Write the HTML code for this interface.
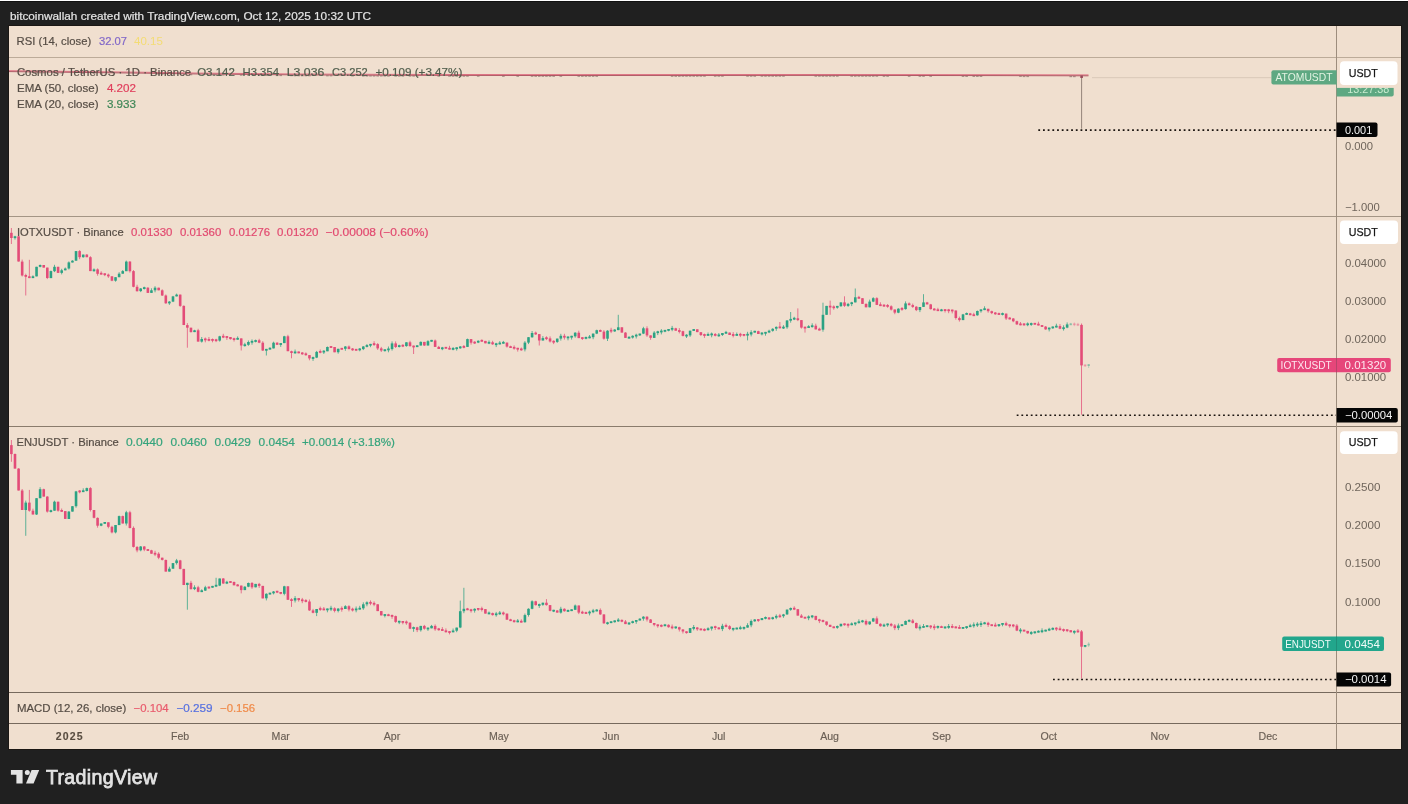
<!DOCTYPE html>
<html><head><meta charset="utf-8">
<style>
html,body{margin:0;padding:0;width:1408px;height:804px;overflow:hidden;background:#202020;}
svg{display:block;will-change:transform;}
text{font-family:"Liberation Sans",sans-serif;}
</style></head>
<body>
<svg width="1408" height="804" viewBox="0 0 1408 804">
<rect x="0" y="0" width="1408" height="804" fill="#202020"/>
<rect x="0" y="0" width="1408" height="1" fill="#ffffff"/>
<rect x="0" y="1" width="1408" height="1" fill="#111111"/>
<text x="10" y="19.9" font-size="11.6" fill="#e4e4e4" stroke="#e4e4e4" stroke-width="0.2" textLength="361" lengthAdjust="spacingAndGlyphs">bitcoinwallah created with TradingView.com, Oct 12, 2025 10:32 UTC</text>
<!-- chart -->
<rect x="8" y="25" width="1394" height="725" fill="#1b1714"/>
<rect x="9" y="26" width="1392" height="723" fill="#f0dfcf"/>
<g stroke-width="1">
<path d="M9 57.5H1401" stroke="#bcab99"/>
<path d="M9 216.5H1401" stroke="#a49585"/>
<path d="M9 426.5H1401" stroke="#8a7b6c"/>
<path d="M9 692.5H1401M9 723.5H1401" stroke="#76695d"/>
<path d="M1336.5 26V749" stroke="#9d8d7d"/>
</g>
<!-- ATOM pane -->
<rect x="31.65" y="72.1" width="2.6" height="1.2" fill="#6f5d55" opacity="0.55"/>
<rect x="35.24" y="72.1" width="2.6" height="1.2" fill="#6f5d55" opacity="0.55"/>
<rect x="38.83" y="72.2" width="2.6" height="1.2" fill="#6f5d55" opacity="0.55"/>
<rect x="42.42" y="72.2" width="2.6" height="1.2" fill="#6f5d55" opacity="0.55"/>
<rect x="53.19" y="72.3" width="2.6" height="1.2" fill="#6f5d55" opacity="0.55"/>
<rect x="56.78" y="72.4" width="2.6" height="1.2" fill="#6f5d55" opacity="0.55"/>
<rect x="60.37" y="72.4" width="2.6" height="1.2" fill="#6f5d55" opacity="0.55"/>
<rect x="81.92" y="72.7" width="2.6" height="1.2" fill="#6f5d55" opacity="0.55"/>
<rect x="92.69" y="72.8" width="2.6" height="1.2" fill="#6f5d55" opacity="0.55"/>
<rect x="99.88" y="72.9" width="2.6" height="1.2" fill="#6f5d55" opacity="0.55"/>
<rect x="157.33" y="73.6" width="2.6" height="1.2" fill="#6f5d55" opacity="0.55"/>
<rect x="160.92" y="73.6" width="2.6" height="1.2" fill="#6f5d55" opacity="0.55"/>
<rect x="189.65" y="74.1" width="2.6" height="1.2" fill="#6f5d55" opacity="0.55"/>
<rect x="211.20" y="74.3" width="2.6" height="1.2" fill="#6f5d55" opacity="0.55"/>
<rect x="214.79" y="74.3" width="2.6" height="1.2" fill="#6f5d55" opacity="0.55"/>
<rect x="218.38" y="74.4" width="2.6" height="1.2" fill="#6f5d55" opacity="0.55"/>
<rect x="221.97" y="74.4" width="2.6" height="1.2" fill="#6f5d55" opacity="0.55"/>
<rect x="239.92" y="74.6" width="2.6" height="1.2" fill="#6f5d55" opacity="0.55"/>
<rect x="247.11" y="74.6" width="2.6" height="1.2" fill="#6f5d55" opacity="0.55"/>
<rect x="257.88" y="74.7" width="2.6" height="1.2" fill="#6f5d55" opacity="0.55"/>
<rect x="261.47" y="74.8" width="2.6" height="1.2" fill="#6f5d55" opacity="0.55"/>
<rect x="265.06" y="74.8" width="2.6" height="1.2" fill="#6f5d55" opacity="0.55"/>
<rect x="275.83" y="74.9" width="2.6" height="1.2" fill="#6f5d55" opacity="0.55"/>
<rect x="279.42" y="74.9" width="2.6" height="1.2" fill="#6f5d55" opacity="0.55"/>
<rect x="290.20" y="75.0" width="2.6" height="1.2" fill="#6f5d55" opacity="0.55"/>
<rect x="293.79" y="75.1" width="2.6" height="1.2" fill="#6f5d55" opacity="0.55"/>
<rect x="297.38" y="75.1" width="2.6" height="1.2" fill="#6f5d55" opacity="0.55"/>
<rect x="300.97" y="75.1" width="2.6" height="1.2" fill="#6f5d55" opacity="0.55"/>
<rect x="304.56" y="75.1" width="2.6" height="1.2" fill="#6f5d55" opacity="0.55"/>
<rect x="308.15" y="75.1" width="2.6" height="1.2" fill="#6f5d55" opacity="0.55"/>
<rect x="326.11" y="75.2" width="2.6" height="1.2" fill="#6f5d55" opacity="0.55"/>
<rect x="329.70" y="75.2" width="2.6" height="1.2" fill="#6f5d55" opacity="0.55"/>
<rect x="351.25" y="75.3" width="2.6" height="1.2" fill="#6f5d55" opacity="0.55"/>
<rect x="362.02" y="75.4" width="2.6" height="1.2" fill="#6f5d55" opacity="0.55"/>
<rect x="365.61" y="75.4" width="2.6" height="1.2" fill="#6f5d55" opacity="0.55"/>
<rect x="369.20" y="75.4" width="2.6" height="1.2" fill="#6f5d55" opacity="0.55"/>
<rect x="372.79" y="75.4" width="2.6" height="1.2" fill="#6f5d55" opacity="0.55"/>
<rect x="376.38" y="75.4" width="2.6" height="1.2" fill="#6f5d55" opacity="0.55"/>
<rect x="379.97" y="75.4" width="2.6" height="1.2" fill="#6f5d55" opacity="0.55"/>
<rect x="383.56" y="75.4" width="2.6" height="1.2" fill="#6f5d55" opacity="0.55"/>
<rect x="387.15" y="75.5" width="2.6" height="1.2" fill="#6f5d55" opacity="0.55"/>
<rect x="394.34" y="75.5" width="2.6" height="1.2" fill="#6f5d55" opacity="0.55"/>
<rect x="397.93" y="75.5" width="2.6" height="1.2" fill="#6f5d55" opacity="0.55"/>
<rect x="401.52" y="75.5" width="2.6" height="1.2" fill="#6f5d55" opacity="0.55"/>
<rect x="408.70" y="75.5" width="2.6" height="1.2" fill="#6f5d55" opacity="0.55"/>
<rect x="412.29" y="75.5" width="2.6" height="1.2" fill="#6f5d55" opacity="0.55"/>
<rect x="415.88" y="75.5" width="2.6" height="1.2" fill="#6f5d55" opacity="0.55"/>
<rect x="437.43" y="75.6" width="2.6" height="1.2" fill="#6f5d55" opacity="0.55"/>
<rect x="448.20" y="75.6" width="2.6" height="1.2" fill="#6f5d55" opacity="0.55"/>
<rect x="451.79" y="75.6" width="2.6" height="1.2" fill="#6f5d55" opacity="0.55"/>
<rect x="455.38" y="75.6" width="2.6" height="1.2" fill="#6f5d55" opacity="0.55"/>
<rect x="458.97" y="75.6" width="2.6" height="1.2" fill="#6f5d55" opacity="0.55"/>
<rect x="462.57" y="75.6" width="2.6" height="1.2" fill="#6f5d55" opacity="0.55"/>
<rect x="466.16" y="75.6" width="2.6" height="1.2" fill="#6f5d55" opacity="0.55"/>
<rect x="476.93" y="75.6" width="2.6" height="1.2" fill="#6f5d55" opacity="0.55"/>
<rect x="502.07" y="75.7" width="2.6" height="1.2" fill="#6f5d55" opacity="0.55"/>
<rect x="516.43" y="75.7" width="2.6" height="1.2" fill="#6f5d55" opacity="0.55"/>
<rect x="530.80" y="75.7" width="2.6" height="1.2" fill="#6f5d55" opacity="0.55"/>
<rect x="534.39" y="75.7" width="2.6" height="1.2" fill="#6f5d55" opacity="0.55"/>
<rect x="537.98" y="75.7" width="2.6" height="1.2" fill="#6f5d55" opacity="0.55"/>
<rect x="541.57" y="75.7" width="2.6" height="1.2" fill="#6f5d55" opacity="0.55"/>
<rect x="545.16" y="75.7" width="2.6" height="1.2" fill="#6f5d55" opacity="0.55"/>
<rect x="548.75" y="75.7" width="2.6" height="1.2" fill="#6f5d55" opacity="0.55"/>
<rect x="552.34" y="75.7" width="2.6" height="1.2" fill="#6f5d55" opacity="0.55"/>
<rect x="559.52" y="75.7" width="2.6" height="1.2" fill="#6f5d55" opacity="0.55"/>
<rect x="577.48" y="75.7" width="2.6" height="1.2" fill="#6f5d55" opacity="0.55"/>
<rect x="581.07" y="75.7" width="2.6" height="1.2" fill="#6f5d55" opacity="0.55"/>
<rect x="584.66" y="75.7" width="2.6" height="1.2" fill="#6f5d55" opacity="0.55"/>
<rect x="588.25" y="75.7" width="2.6" height="1.2" fill="#6f5d55" opacity="0.55"/>
<rect x="591.84" y="75.7" width="2.6" height="1.2" fill="#6f5d55" opacity="0.55"/>
<rect x="595.43" y="75.7" width="2.6" height="1.2" fill="#6f5d55" opacity="0.55"/>
<rect x="670.84" y="75.7" width="2.6" height="1.2" fill="#6f5d55" opacity="0.55"/>
<rect x="674.44" y="75.7" width="2.6" height="1.2" fill="#6f5d55" opacity="0.55"/>
<rect x="678.03" y="75.7" width="2.6" height="1.2" fill="#6f5d55" opacity="0.55"/>
<rect x="681.62" y="75.6" width="2.6" height="1.2" fill="#6f5d55" opacity="0.55"/>
<rect x="685.21" y="75.6" width="2.6" height="1.2" fill="#6f5d55" opacity="0.55"/>
<rect x="688.80" y="75.6" width="2.6" height="1.2" fill="#6f5d55" opacity="0.55"/>
<rect x="692.39" y="75.6" width="2.6" height="1.2" fill="#6f5d55" opacity="0.55"/>
<rect x="695.98" y="75.6" width="2.6" height="1.2" fill="#6f5d55" opacity="0.55"/>
<rect x="699.57" y="75.6" width="2.6" height="1.2" fill="#6f5d55" opacity="0.55"/>
<rect x="703.16" y="75.6" width="2.6" height="1.2" fill="#6f5d55" opacity="0.55"/>
<rect x="713.94" y="75.6" width="2.6" height="1.2" fill="#6f5d55" opacity="0.55"/>
<rect x="717.53" y="75.6" width="2.6" height="1.2" fill="#6f5d55" opacity="0.55"/>
<rect x="721.12" y="75.6" width="2.6" height="1.2" fill="#6f5d55" opacity="0.55"/>
<rect x="746.26" y="75.6" width="2.6" height="1.2" fill="#6f5d55" opacity="0.55"/>
<rect x="749.85" y="75.6" width="2.6" height="1.2" fill="#6f5d55" opacity="0.55"/>
<rect x="753.44" y="75.6" width="2.6" height="1.2" fill="#6f5d55" opacity="0.55"/>
<rect x="760.62" y="75.6" width="2.6" height="1.2" fill="#6f5d55" opacity="0.55"/>
<rect x="764.21" y="75.6" width="2.6" height="1.2" fill="#6f5d55" opacity="0.55"/>
<rect x="767.80" y="75.6" width="2.6" height="1.2" fill="#6f5d55" opacity="0.55"/>
<rect x="771.39" y="75.6" width="2.6" height="1.2" fill="#6f5d55" opacity="0.55"/>
<rect x="774.98" y="75.6" width="2.6" height="1.2" fill="#6f5d55" opacity="0.55"/>
<rect x="778.57" y="75.6" width="2.6" height="1.2" fill="#6f5d55" opacity="0.55"/>
<rect x="782.17" y="75.6" width="2.6" height="1.2" fill="#6f5d55" opacity="0.55"/>
<rect x="814.48" y="75.6" width="2.6" height="1.2" fill="#6f5d55" opacity="0.55"/>
<rect x="818.08" y="75.6" width="2.6" height="1.2" fill="#6f5d55" opacity="0.55"/>
<rect x="821.67" y="75.6" width="2.6" height="1.2" fill="#6f5d55" opacity="0.55"/>
<rect x="825.26" y="75.6" width="2.6" height="1.2" fill="#6f5d55" opacity="0.55"/>
<rect x="828.85" y="75.6" width="2.6" height="1.2" fill="#6f5d55" opacity="0.55"/>
<rect x="832.44" y="75.6" width="2.6" height="1.2" fill="#6f5d55" opacity="0.55"/>
<rect x="836.03" y="75.6" width="2.6" height="1.2" fill="#6f5d55" opacity="0.55"/>
<rect x="850.39" y="75.6" width="2.6" height="1.2" fill="#6f5d55" opacity="0.55"/>
<rect x="853.99" y="75.6" width="2.6" height="1.2" fill="#6f5d55" opacity="0.55"/>
<rect x="857.58" y="75.6" width="2.6" height="1.2" fill="#6f5d55" opacity="0.55"/>
<rect x="861.17" y="75.6" width="2.6" height="1.2" fill="#6f5d55" opacity="0.55"/>
<rect x="864.76" y="75.6" width="2.6" height="1.2" fill="#6f5d55" opacity="0.55"/>
<rect x="868.35" y="75.6" width="2.6" height="1.2" fill="#6f5d55" opacity="0.55"/>
<rect x="871.94" y="75.6" width="2.6" height="1.2" fill="#6f5d55" opacity="0.55"/>
<rect x="875.53" y="75.6" width="2.6" height="1.2" fill="#6f5d55" opacity="0.55"/>
<rect x="882.71" y="75.7" width="2.6" height="1.2" fill="#6f5d55" opacity="0.55"/>
<rect x="886.30" y="75.7" width="2.6" height="1.2" fill="#6f5d55" opacity="0.55"/>
<rect x="907.85" y="75.7" width="2.6" height="1.2" fill="#6f5d55" opacity="0.55"/>
<rect x="918.62" y="75.7" width="2.6" height="1.2" fill="#6f5d55" opacity="0.55"/>
<rect x="922.21" y="75.7" width="2.6" height="1.2" fill="#6f5d55" opacity="0.55"/>
<rect x="929.40" y="75.7" width="2.6" height="1.2" fill="#6f5d55" opacity="0.55"/>
<rect x="961.72" y="75.8" width="2.6" height="1.2" fill="#6f5d55" opacity="0.55"/>
<rect x="965.31" y="75.8" width="2.6" height="1.2" fill="#6f5d55" opacity="0.55"/>
<rect x="972.49" y="75.8" width="2.6" height="1.2" fill="#6f5d55" opacity="0.55"/>
<rect x="976.08" y="75.8" width="2.6" height="1.2" fill="#6f5d55" opacity="0.55"/>
<rect x="979.67" y="75.8" width="2.6" height="1.2" fill="#6f5d55" opacity="0.55"/>
<rect x="1019.17" y="75.8" width="2.6" height="1.2" fill="#6f5d55" opacity="0.55"/>
<rect x="1022.76" y="75.9" width="2.6" height="1.2" fill="#6f5d55" opacity="0.55"/>
<rect x="1026.35" y="75.9" width="2.6" height="1.2" fill="#6f5d55" opacity="0.55"/>
<rect x="1069.45" y="76.0" width="2.6" height="1.2" fill="#6f5d55" opacity="0.55"/>
<rect x="1073.04" y="76.0" width="2.6" height="1.2" fill="#6f5d55" opacity="0.55"/>
<path d="M9 70.7 L60 71.3 L140 72.2 L200 73.1 L300 74.0 L400 74.4 L520 74.6 L840 74.5 L1000 74.7 L1088.5 74.9" stroke="#e07485" stroke-width="1" fill="none"/>
<path d="M9 71.6 L60 72.2 L140 73.1 L200 74.0 L300 74.9 L400 75.3 L520 75.5 L840 75.4 L1000 75.6 L1088.5 75.8" stroke="#a84c5a" stroke-width="0.9" fill="none"/>
<path d="M1081.6 77V128.7" stroke="#8a7a70" stroke-width="0.9"/>
<rect x="1080.3" y="75.5" width="2.6" height="2.5" fill="#9a4a5a"/>
<path d="M1092 77.7H1271" stroke="#d9c8b8" stroke-width="1"/>
<path d="M1038.3 130.1H1336" stroke="#1a1410" stroke-width="1.6" stroke-dasharray="1.8 2.89"/>
<!-- IOTX candles -->
<g>
<path d="M11.40 228.0V244.0" stroke="#e34c78" stroke-width="0.75"/>
<rect x="10.10" y="232.8" width="2.6" height="5.2" fill="#e34c78"/>
<path d="M14.99 235.8V239.6" stroke="#2ba283" stroke-width="0.75"/>
<rect x="13.69" y="236.3" width="2.6" height="1.8" fill="#2ba283"/>
<path d="M18.58 236.3V261.6" stroke="#e34c78" stroke-width="0.75"/>
<rect x="17.28" y="236.3" width="2.6" height="25.2" fill="#e34c78"/>
<path d="M22.17 259.6V276.5" stroke="#e34c78" stroke-width="0.75"/>
<rect x="20.87" y="261.6" width="2.6" height="13.9" fill="#e34c78"/>
<path d="M25.76 273.7V295.5" stroke="#e34c78" stroke-width="0.75"/>
<rect x="24.46" y="275.0" width="2.6" height="1.8" fill="#e34c78"/>
<path d="M29.36 259.8V278.1" stroke="#e34c78" stroke-width="0.75"/>
<rect x="28.06" y="276.3" width="2.6" height="1.8" fill="#e34c78"/>
<path d="M32.95 275.3V278.1" stroke="#2ba283" stroke-width="0.75"/>
<rect x="31.65" y="276.3" width="2.6" height="1.8" fill="#2ba283"/>
<path d="M36.54 266.8V276.3" stroke="#2ba283" stroke-width="0.75"/>
<rect x="35.24" y="266.8" width="2.6" height="9.6" fill="#2ba283"/>
<path d="M40.13 264.5V267.3" stroke="#2ba283" stroke-width="0.75"/>
<rect x="38.83" y="265.0" width="2.6" height="1.8" fill="#2ba283"/>
<path d="M43.72 265.0V267.6" stroke="#e34c78" stroke-width="0.75"/>
<rect x="42.42" y="265.0" width="2.6" height="2.6" fill="#e34c78"/>
<path d="M47.31 267.6V279.1" stroke="#e34c78" stroke-width="0.75"/>
<rect x="46.01" y="267.6" width="2.6" height="10.4" fill="#e34c78"/>
<path d="M50.90 270.6V278.1" stroke="#2ba283" stroke-width="0.75"/>
<rect x="49.60" y="271.1" width="2.6" height="7.0" fill="#2ba283"/>
<path d="M54.49 264.8V272.1" stroke="#2ba283" stroke-width="0.75"/>
<rect x="53.19" y="266.8" width="2.6" height="4.4" fill="#2ba283"/>
<path d="M58.08 266.8V272.9" stroke="#e34c78" stroke-width="0.75"/>
<rect x="56.78" y="266.8" width="2.6" height="6.1" fill="#e34c78"/>
<path d="M61.67 268.8V274.4" stroke="#2ba283" stroke-width="0.75"/>
<rect x="60.37" y="270.3" width="2.6" height="2.6" fill="#2ba283"/>
<path d="M65.27 267.5V270.3" stroke="#2ba283" stroke-width="0.75"/>
<rect x="63.97" y="268.5" width="2.6" height="1.8" fill="#2ba283"/>
<path d="M68.86 261.4V269.5" stroke="#2ba283" stroke-width="0.75"/>
<rect x="67.56" y="262.4" width="2.6" height="6.1" fill="#2ba283"/>
<path d="M72.45 260.2V262.5" stroke="#2ba283" stroke-width="0.75"/>
<rect x="71.15" y="260.7" width="2.6" height="1.8" fill="#2ba283"/>
<path d="M76.04 251.1V260.7" stroke="#2ba283" stroke-width="0.75"/>
<rect x="74.74" y="251.1" width="2.6" height="9.6" fill="#2ba283"/>
<path d="M79.63 250.1V259.2" stroke="#e34c78" stroke-width="0.75"/>
<rect x="78.33" y="251.1" width="2.6" height="6.1" fill="#e34c78"/>
<path d="M83.22 254.6V257.7" stroke="#2ba283" stroke-width="0.75"/>
<rect x="81.92" y="254.6" width="2.6" height="2.6" fill="#2ba283"/>
<path d="M86.81 254.1V257.2" stroke="#e34c78" stroke-width="0.75"/>
<rect x="85.51" y="254.6" width="2.6" height="2.6" fill="#e34c78"/>
<path d="M90.40 256.2V271.1" stroke="#e34c78" stroke-width="0.75"/>
<rect x="89.10" y="257.2" width="2.6" height="13.9" fill="#e34c78"/>
<path d="M93.99 268.4V271.7" stroke="#2ba283" stroke-width="0.75"/>
<rect x="92.69" y="269.4" width="2.6" height="1.8" fill="#2ba283"/>
<path d="M97.58 268.4V275.7" stroke="#e34c78" stroke-width="0.75"/>
<rect x="96.28" y="269.4" width="2.6" height="4.4" fill="#e34c78"/>
<path d="M101.18 271.3V274.6" stroke="#e34c78" stroke-width="0.75"/>
<rect x="99.88" y="272.8" width="2.6" height="1.8" fill="#e34c78"/>
<path d="M104.77 273.3V276.1" stroke="#e34c78" stroke-width="0.75"/>
<rect x="103.47" y="273.3" width="2.6" height="1.8" fill="#e34c78"/>
<path d="M108.36 273.6V277.9" stroke="#e34c78" stroke-width="0.75"/>
<rect x="107.06" y="274.6" width="2.6" height="1.8" fill="#e34c78"/>
<path d="M111.95 276.3V281.2" stroke="#e34c78" stroke-width="0.75"/>
<rect x="110.65" y="276.3" width="2.6" height="4.4" fill="#e34c78"/>
<path d="M115.54 277.2V281.7" stroke="#2ba283" stroke-width="0.75"/>
<rect x="114.24" y="277.2" width="2.6" height="3.5" fill="#2ba283"/>
<path d="M119.13 272.2V277.2" stroke="#2ba283" stroke-width="0.75"/>
<rect x="117.83" y="273.7" width="2.6" height="3.5" fill="#2ba283"/>
<path d="M122.72 270.1V273.7" stroke="#2ba283" stroke-width="0.75"/>
<rect x="121.42" y="271.1" width="2.6" height="2.6" fill="#2ba283"/>
<path d="M126.31 260.6V271.1" stroke="#2ba283" stroke-width="0.75"/>
<rect x="125.01" y="261.6" width="2.6" height="9.6" fill="#2ba283"/>
<path d="M129.90 261.1V272.6" stroke="#e34c78" stroke-width="0.75"/>
<rect x="128.60" y="261.6" width="2.6" height="9.6" fill="#e34c78"/>
<path d="M133.49 270.1V287.3" stroke="#e34c78" stroke-width="0.75"/>
<rect x="132.19" y="271.1" width="2.6" height="15.7" fill="#e34c78"/>
<path d="M137.09 284.8V291.6" stroke="#e34c78" stroke-width="0.75"/>
<rect x="135.78" y="286.8" width="2.6" height="4.4" fill="#e34c78"/>
<path d="M140.68 288.0V292.1" stroke="#2ba283" stroke-width="0.75"/>
<rect x="139.38" y="288.5" width="2.6" height="2.6" fill="#2ba283"/>
<path d="M144.27 286.7V289.5" stroke="#2ba283" stroke-width="0.75"/>
<rect x="142.97" y="287.2" width="2.6" height="1.8" fill="#2ba283"/>
<path d="M147.86 287.2V292.9" stroke="#e34c78" stroke-width="0.75"/>
<rect x="146.56" y="287.7" width="2.6" height="5.2" fill="#e34c78"/>
<path d="M151.45 288.3V292.9" stroke="#2ba283" stroke-width="0.75"/>
<rect x="150.15" y="290.3" width="2.6" height="2.6" fill="#2ba283"/>
<path d="M155.04 286.2V292.3" stroke="#2ba283" stroke-width="0.75"/>
<rect x="153.74" y="287.7" width="2.6" height="2.6" fill="#2ba283"/>
<path d="M158.63 287.7V290.3" stroke="#e34c78" stroke-width="0.75"/>
<rect x="157.33" y="287.7" width="2.6" height="2.6" fill="#e34c78"/>
<path d="M162.22 289.3V296.0" stroke="#e34c78" stroke-width="0.75"/>
<rect x="160.92" y="290.3" width="2.6" height="5.2" fill="#e34c78"/>
<path d="M165.81 294.5V303.8" stroke="#e34c78" stroke-width="0.75"/>
<rect x="164.51" y="295.5" width="2.6" height="7.8" fill="#e34c78"/>
<path d="M169.40 301.1V304.9" stroke="#2ba283" stroke-width="0.75"/>
<rect x="168.10" y="301.6" width="2.6" height="1.8" fill="#2ba283"/>
<path d="M173.00 295.9V302.1" stroke="#2ba283" stroke-width="0.75"/>
<rect x="171.69" y="296.4" width="2.6" height="5.2" fill="#2ba283"/>
<path d="M176.59 293.6V296.4" stroke="#2ba283" stroke-width="0.75"/>
<rect x="175.29" y="294.6" width="2.6" height="1.8" fill="#2ba283"/>
<path d="M180.18 294.6V306.9" stroke="#e34c78" stroke-width="0.75"/>
<rect x="178.88" y="294.6" width="2.6" height="11.3" fill="#e34c78"/>
<path d="M183.77 305.4V325.1" stroke="#e34c78" stroke-width="0.75"/>
<rect x="182.47" y="305.9" width="2.6" height="19.1" fill="#e34c78"/>
<path d="M187.36 323.1V347.7" stroke="#e34c78" stroke-width="0.75"/>
<rect x="186.06" y="325.1" width="2.6" height="2.6" fill="#e34c78"/>
<path d="M190.95 327.7V332.5" stroke="#e34c78" stroke-width="0.75"/>
<rect x="189.65" y="327.7" width="2.6" height="4.4" fill="#e34c78"/>
<path d="M194.54 329.8V332.1" stroke="#2ba283" stroke-width="0.75"/>
<rect x="193.24" y="330.3" width="2.6" height="1.8" fill="#2ba283"/>
<path d="M198.13 328.8V341.6" stroke="#e34c78" stroke-width="0.75"/>
<rect x="196.83" y="330.3" width="2.6" height="11.3" fill="#e34c78"/>
<path d="M201.72 337.0V342.6" stroke="#2ba283" stroke-width="0.75"/>
<rect x="200.42" y="339.0" width="2.6" height="2.6" fill="#2ba283"/>
<path d="M205.31 337.5V342.3" stroke="#e34c78" stroke-width="0.75"/>
<rect x="204.01" y="338.5" width="2.6" height="1.8" fill="#e34c78"/>
<path d="M208.91 337.0V341.3" stroke="#e34c78" stroke-width="0.75"/>
<rect x="207.61" y="339.0" width="2.6" height="1.8" fill="#e34c78"/>
<path d="M212.50 338.5V342.3" stroke="#e34c78" stroke-width="0.75"/>
<rect x="211.20" y="339.0" width="2.6" height="1.8" fill="#e34c78"/>
<path d="M216.09 338.8V342.1" stroke="#e34c78" stroke-width="0.75"/>
<rect x="214.79" y="339.3" width="2.6" height="1.8" fill="#e34c78"/>
<path d="M219.68 335.8V341.6" stroke="#2ba283" stroke-width="0.75"/>
<rect x="218.38" y="336.3" width="2.6" height="4.3" fill="#2ba283"/>
<path d="M223.27 333.8V338.1" stroke="#e34c78" stroke-width="0.75"/>
<rect x="221.97" y="335.8" width="2.6" height="1.8" fill="#e34c78"/>
<path d="M226.86 336.1V339.9" stroke="#e34c78" stroke-width="0.75"/>
<rect x="225.56" y="336.1" width="2.6" height="1.8" fill="#e34c78"/>
<path d="M230.45 337.0V339.6" stroke="#e34c78" stroke-width="0.75"/>
<rect x="229.15" y="337.0" width="2.6" height="2.1" fill="#e34c78"/>
<path d="M234.04 337.7V341.5" stroke="#e34c78" stroke-width="0.75"/>
<rect x="232.74" y="338.2" width="2.6" height="1.8" fill="#e34c78"/>
<path d="M237.63 336.4V339.7" stroke="#2ba283" stroke-width="0.75"/>
<rect x="236.33" y="337.9" width="2.6" height="1.8" fill="#2ba283"/>
<path d="M241.22 338.4V350.5" stroke="#e34c78" stroke-width="0.75"/>
<rect x="239.92" y="338.4" width="2.6" height="7.1" fill="#e34c78"/>
<path d="M244.82 342.8V346.6" stroke="#2ba283" stroke-width="0.75"/>
<rect x="243.52" y="344.3" width="2.6" height="1.8" fill="#2ba283"/>
<path d="M248.41 340.5V345.8" stroke="#2ba283" stroke-width="0.75"/>
<rect x="247.11" y="342.0" width="2.6" height="2.8" fill="#2ba283"/>
<path d="M252.00 339.4V344.7" stroke="#2ba283" stroke-width="0.75"/>
<rect x="250.70" y="340.9" width="2.6" height="1.8" fill="#2ba283"/>
<path d="M255.59 339.6V342.4" stroke="#2ba283" stroke-width="0.75"/>
<rect x="254.29" y="340.1" width="2.6" height="1.8" fill="#2ba283"/>
<path d="M259.18 338.8V343.2" stroke="#e34c78" stroke-width="0.75"/>
<rect x="257.88" y="340.3" width="2.6" height="2.4" fill="#e34c78"/>
<path d="M262.77 341.2V351.0" stroke="#e34c78" stroke-width="0.75"/>
<rect x="261.47" y="342.7" width="2.6" height="7.8" fill="#e34c78"/>
<path d="M266.36 348.9V355.5" stroke="#2ba283" stroke-width="0.75"/>
<rect x="265.06" y="348.9" width="2.6" height="1.8" fill="#2ba283"/>
<path d="M269.95 347.3V349.6" stroke="#2ba283" stroke-width="0.75"/>
<rect x="268.65" y="347.8" width="2.6" height="1.8" fill="#2ba283"/>
<path d="M273.54 341.7V348.4" stroke="#2ba283" stroke-width="0.75"/>
<rect x="272.24" y="342.7" width="2.6" height="5.7" fill="#2ba283"/>
<path d="M277.13 342.2V344.8" stroke="#e34c78" stroke-width="0.75"/>
<rect x="275.83" y="342.7" width="2.6" height="2.1" fill="#e34c78"/>
<path d="M280.72 343.1V346.9" stroke="#2ba283" stroke-width="0.75"/>
<rect x="279.42" y="343.1" width="2.6" height="1.8" fill="#2ba283"/>
<path d="M284.32 335.8V343.1" stroke="#2ba283" stroke-width="0.75"/>
<rect x="283.02" y="336.3" width="2.6" height="6.8" fill="#2ba283"/>
<path d="M287.91 334.8V351.2" stroke="#e34c78" stroke-width="0.75"/>
<rect x="286.61" y="336.3" width="2.6" height="14.9" fill="#e34c78"/>
<path d="M291.50 350.7V358.3" stroke="#e34c78" stroke-width="0.75"/>
<rect x="290.20" y="351.2" width="2.6" height="1.8" fill="#e34c78"/>
<path d="M295.09 349.5V353.8" stroke="#2ba283" stroke-width="0.75"/>
<rect x="293.79" y="351.5" width="2.6" height="1.8" fill="#2ba283"/>
<path d="M298.68 351.5V353.3" stroke="#e34c78" stroke-width="0.75"/>
<rect x="297.38" y="351.5" width="2.6" height="1.8" fill="#e34c78"/>
<path d="M302.27 352.0V354.8" stroke="#e34c78" stroke-width="0.75"/>
<rect x="300.97" y="352.5" width="2.6" height="1.8" fill="#e34c78"/>
<path d="M305.86 352.4V355.7" stroke="#e34c78" stroke-width="0.75"/>
<rect x="304.56" y="353.4" width="2.6" height="1.8" fill="#e34c78"/>
<path d="M309.45 355.1V360.3" stroke="#e34c78" stroke-width="0.75"/>
<rect x="308.15" y="355.1" width="2.6" height="3.3" fill="#e34c78"/>
<path d="M313.04 356.6V360.9" stroke="#2ba283" stroke-width="0.75"/>
<rect x="311.74" y="357.1" width="2.6" height="1.8" fill="#2ba283"/>
<path d="M316.63 350.9V358.1" stroke="#2ba283" stroke-width="0.75"/>
<rect x="315.33" y="351.9" width="2.6" height="5.7" fill="#2ba283"/>
<path d="M320.23 349.5V353.3" stroke="#e34c78" stroke-width="0.75"/>
<rect x="318.93" y="351.0" width="2.6" height="1.8" fill="#e34c78"/>
<path d="M323.82 350.2V354.0" stroke="#2ba283" stroke-width="0.75"/>
<rect x="322.52" y="350.7" width="2.6" height="1.8" fill="#2ba283"/>
<path d="M327.41 346.5V351.2" stroke="#2ba283" stroke-width="0.75"/>
<rect x="326.11" y="347.0" width="2.6" height="4.3" fill="#2ba283"/>
<path d="M331.00 346.1V347.9" stroke="#e34c78" stroke-width="0.75"/>
<rect x="329.70" y="346.1" width="2.6" height="1.8" fill="#e34c78"/>
<path d="M334.59 347.0V352.2" stroke="#e34c78" stroke-width="0.75"/>
<rect x="333.29" y="347.0" width="2.6" height="5.3" fill="#e34c78"/>
<path d="M338.18 348.8V353.7" stroke="#2ba283" stroke-width="0.75"/>
<rect x="336.88" y="348.8" width="2.6" height="3.4" fill="#2ba283"/>
<path d="M341.77 347.9V349.7" stroke="#e34c78" stroke-width="0.75"/>
<rect x="340.47" y="347.9" width="2.6" height="1.8" fill="#e34c78"/>
<path d="M345.36 346.0V350.8" stroke="#2ba283" stroke-width="0.75"/>
<rect x="344.06" y="346.5" width="2.6" height="2.3" fill="#2ba283"/>
<path d="M348.95 345.5V349.1" stroke="#e34c78" stroke-width="0.75"/>
<rect x="347.65" y="346.5" width="2.6" height="2.6" fill="#e34c78"/>
<path d="M352.55 348.0V350.8" stroke="#e34c78" stroke-width="0.75"/>
<rect x="351.25" y="348.5" width="2.6" height="1.8" fill="#e34c78"/>
<path d="M356.14 348.9V350.7" stroke="#e34c78" stroke-width="0.75"/>
<rect x="354.84" y="348.9" width="2.6" height="1.8" fill="#e34c78"/>
<path d="M359.73 348.0V351.3" stroke="#2ba283" stroke-width="0.75"/>
<rect x="358.43" y="348.5" width="2.6" height="1.8" fill="#2ba283"/>
<path d="M363.32 346.0V350.1" stroke="#2ba283" stroke-width="0.75"/>
<rect x="362.02" y="346.5" width="2.6" height="2.6" fill="#2ba283"/>
<path d="M366.91 344.1V347.4" stroke="#2ba283" stroke-width="0.75"/>
<rect x="365.61" y="345.1" width="2.6" height="1.8" fill="#2ba283"/>
<path d="M370.50 343.9V347.2" stroke="#2ba283" stroke-width="0.75"/>
<rect x="369.20" y="343.9" width="2.6" height="1.8" fill="#2ba283"/>
<path d="M374.09 341.2V346.0" stroke="#e34c78" stroke-width="0.75"/>
<rect x="372.79" y="343.2" width="2.6" height="1.8" fill="#e34c78"/>
<path d="M377.68 343.1V349.9" stroke="#e34c78" stroke-width="0.75"/>
<rect x="376.38" y="344.1" width="2.6" height="4.3" fill="#e34c78"/>
<path d="M381.27 346.9V352.0" stroke="#e34c78" stroke-width="0.75"/>
<rect x="379.97" y="348.4" width="2.6" height="2.1" fill="#e34c78"/>
<path d="M384.86 349.3V351.6" stroke="#2ba283" stroke-width="0.75"/>
<rect x="383.56" y="349.3" width="2.6" height="1.8" fill="#2ba283"/>
<path d="M388.45 346.5V352.3" stroke="#2ba283" stroke-width="0.75"/>
<rect x="387.15" y="348.5" width="2.6" height="1.8" fill="#2ba283"/>
<path d="M392.05 341.4V350.6" stroke="#2ba283" stroke-width="0.75"/>
<rect x="390.75" y="343.4" width="2.6" height="5.7" fill="#2ba283"/>
<path d="M395.64 341.4V348.0" stroke="#e34c78" stroke-width="0.75"/>
<rect x="394.34" y="343.4" width="2.6" height="3.6" fill="#e34c78"/>
<path d="M399.23 344.7V347.5" stroke="#2ba283" stroke-width="0.75"/>
<rect x="397.93" y="345.2" width="2.6" height="1.8" fill="#2ba283"/>
<path d="M402.82 344.3V347.1" stroke="#e34c78" stroke-width="0.75"/>
<rect x="401.52" y="344.8" width="2.6" height="1.8" fill="#e34c78"/>
<path d="M406.41 342.3V346.7" stroke="#2ba283" stroke-width="0.75"/>
<rect x="405.11" y="342.3" width="2.6" height="3.8" fill="#2ba283"/>
<path d="M410.00 340.8V346.7" stroke="#e34c78" stroke-width="0.75"/>
<rect x="408.70" y="342.3" width="2.6" height="3.8" fill="#e34c78"/>
<path d="M413.59 345.6V354.0" stroke="#e34c78" stroke-width="0.75"/>
<rect x="412.29" y="345.6" width="2.6" height="1.8" fill="#e34c78"/>
<path d="M417.18 345.3V347.1" stroke="#2ba283" stroke-width="0.75"/>
<rect x="415.88" y="345.3" width="2.6" height="1.8" fill="#2ba283"/>
<path d="M420.77 341.4V345.5" stroke="#2ba283" stroke-width="0.75"/>
<rect x="419.47" y="341.9" width="2.6" height="3.6" fill="#2ba283"/>
<path d="M424.37 341.9V346.0" stroke="#e34c78" stroke-width="0.75"/>
<rect x="423.06" y="341.9" width="2.6" height="3.6" fill="#e34c78"/>
<path d="M427.96 340.2V345.5" stroke="#2ba283" stroke-width="0.75"/>
<rect x="426.66" y="341.2" width="2.6" height="4.3" fill="#2ba283"/>
<path d="M431.55 339.9V341.7" stroke="#2ba283" stroke-width="0.75"/>
<rect x="430.25" y="339.9" width="2.6" height="1.8" fill="#2ba283"/>
<path d="M435.14 339.5V346.9" stroke="#e34c78" stroke-width="0.75"/>
<rect x="433.84" y="340.5" width="2.6" height="6.4" fill="#e34c78"/>
<path d="M438.73 345.9V349.0" stroke="#e34c78" stroke-width="0.75"/>
<rect x="437.43" y="346.9" width="2.6" height="2.1" fill="#e34c78"/>
<path d="M442.32 346.9V350.2" stroke="#2ba283" stroke-width="0.75"/>
<rect x="441.02" y="347.4" width="2.6" height="1.8" fill="#2ba283"/>
<path d="M445.91 346.9V348.7" stroke="#e34c78" stroke-width="0.75"/>
<rect x="444.61" y="346.9" width="2.6" height="1.8" fill="#e34c78"/>
<path d="M449.50 345.8V349.6" stroke="#e34c78" stroke-width="0.75"/>
<rect x="448.20" y="347.8" width="2.6" height="1.8" fill="#e34c78"/>
<path d="M453.09 347.0V350.3" stroke="#2ba283" stroke-width="0.75"/>
<rect x="451.79" y="348.0" width="2.6" height="1.8" fill="#2ba283"/>
<path d="M456.68 347.3V350.6" stroke="#2ba283" stroke-width="0.75"/>
<rect x="455.38" y="347.3" width="2.6" height="1.8" fill="#2ba283"/>
<path d="M460.27 346.0V348.8" stroke="#2ba283" stroke-width="0.75"/>
<rect x="458.97" y="346.5" width="2.6" height="1.8" fill="#2ba283"/>
<path d="M463.87 345.0V348.3" stroke="#e34c78" stroke-width="0.75"/>
<rect x="462.57" y="346.0" width="2.6" height="1.8" fill="#e34c78"/>
<path d="M467.46 338.6V346.9" stroke="#2ba283" stroke-width="0.75"/>
<rect x="466.16" y="339.1" width="2.6" height="7.8" fill="#2ba283"/>
<path d="M471.05 339.1V344.6" stroke="#e34c78" stroke-width="0.75"/>
<rect x="469.75" y="339.1" width="2.6" height="3.6" fill="#e34c78"/>
<path d="M474.64 341.2V344.0" stroke="#e34c78" stroke-width="0.75"/>
<rect x="473.34" y="341.7" width="2.6" height="1.8" fill="#e34c78"/>
<path d="M478.23 340.3V343.1" stroke="#2ba283" stroke-width="0.75"/>
<rect x="476.93" y="340.8" width="2.6" height="1.8" fill="#2ba283"/>
<path d="M481.82 339.4V341.7" stroke="#e34c78" stroke-width="0.75"/>
<rect x="480.52" y="339.9" width="2.6" height="1.8" fill="#e34c78"/>
<path d="M485.41 340.9V343.3" stroke="#e34c78" stroke-width="0.75"/>
<rect x="484.11" y="340.9" width="2.6" height="2.4" fill="#e34c78"/>
<path d="M489.00 340.4V344.2" stroke="#2ba283" stroke-width="0.75"/>
<rect x="487.70" y="341.9" width="2.6" height="1.8" fill="#2ba283"/>
<path d="M492.59 340.8V344.8" stroke="#e34c78" stroke-width="0.75"/>
<rect x="491.29" y="342.3" width="2.6" height="2.0" fill="#e34c78"/>
<path d="M496.19 342.8V347.1" stroke="#2ba283" stroke-width="0.75"/>
<rect x="494.88" y="343.3" width="2.6" height="1.8" fill="#2ba283"/>
<path d="M499.78 341.1V344.4" stroke="#2ba283" stroke-width="0.75"/>
<rect x="498.48" y="342.6" width="2.6" height="1.8" fill="#2ba283"/>
<path d="M503.37 340.9V343.7" stroke="#2ba283" stroke-width="0.75"/>
<rect x="502.07" y="341.9" width="2.6" height="1.8" fill="#2ba283"/>
<path d="M506.96 342.6V347.6" stroke="#e34c78" stroke-width="0.75"/>
<rect x="505.66" y="342.6" width="2.6" height="4.0" fill="#e34c78"/>
<path d="M510.55 345.7V348.0" stroke="#e34c78" stroke-width="0.75"/>
<rect x="509.25" y="346.2" width="2.6" height="1.8" fill="#e34c78"/>
<path d="M514.14 345.4V349.7" stroke="#e34c78" stroke-width="0.75"/>
<rect x="512.84" y="346.9" width="2.6" height="1.8" fill="#e34c78"/>
<path d="M517.73 347.8V351.6" stroke="#e34c78" stroke-width="0.75"/>
<rect x="516.43" y="347.8" width="2.6" height="1.8" fill="#e34c78"/>
<path d="M521.32 347.5V350.8" stroke="#e34c78" stroke-width="0.75"/>
<rect x="520.02" y="348.5" width="2.6" height="1.8" fill="#e34c78"/>
<path d="M524.91 341.1V351.4" stroke="#2ba283" stroke-width="0.75"/>
<rect x="523.61" y="342.6" width="2.6" height="6.8" fill="#2ba283"/>
<path d="M528.50 337.2V344.1" stroke="#2ba283" stroke-width="0.75"/>
<rect x="527.20" y="337.2" width="2.6" height="5.4" fill="#2ba283"/>
<path d="M532.10 331.0V337.7" stroke="#2ba283" stroke-width="0.75"/>
<rect x="530.80" y="333.0" width="2.6" height="4.3" fill="#2ba283"/>
<path d="M535.69 331.6V334.9" stroke="#e34c78" stroke-width="0.75"/>
<rect x="534.39" y="332.6" width="2.6" height="1.8" fill="#e34c78"/>
<path d="M539.28 334.1V345.5" stroke="#e34c78" stroke-width="0.75"/>
<rect x="537.98" y="334.1" width="2.6" height="6.4" fill="#e34c78"/>
<path d="M542.87 336.1V340.5" stroke="#2ba283" stroke-width="0.75"/>
<rect x="541.57" y="338.1" width="2.6" height="2.4" fill="#2ba283"/>
<path d="M546.46 336.3V340.1" stroke="#e34c78" stroke-width="0.75"/>
<rect x="545.16" y="337.3" width="2.6" height="1.8" fill="#e34c78"/>
<path d="M550.05 336.4V342.5" stroke="#e34c78" stroke-width="0.75"/>
<rect x="548.75" y="338.4" width="2.6" height="3.1" fill="#e34c78"/>
<path d="M553.64 340.3V344.1" stroke="#e34c78" stroke-width="0.75"/>
<rect x="552.34" y="340.8" width="2.6" height="1.8" fill="#e34c78"/>
<path d="M557.23 338.6V342.9" stroke="#2ba283" stroke-width="0.75"/>
<rect x="555.93" y="338.6" width="2.6" height="3.3" fill="#2ba283"/>
<path d="M560.82 333.8V340.6" stroke="#2ba283" stroke-width="0.75"/>
<rect x="559.52" y="335.8" width="2.6" height="2.8" fill="#2ba283"/>
<path d="M564.41 333.8V339.6" stroke="#e34c78" stroke-width="0.75"/>
<rect x="563.11" y="335.8" width="2.6" height="1.8" fill="#e34c78"/>
<path d="M568.00 336.5V340.3" stroke="#2ba283" stroke-width="0.75"/>
<rect x="566.71" y="336.5" width="2.6" height="1.8" fill="#2ba283"/>
<path d="M571.60 335.8V339.6" stroke="#2ba283" stroke-width="0.75"/>
<rect x="570.30" y="335.8" width="2.6" height="1.8" fill="#2ba283"/>
<path d="M575.19 332.2V337.7" stroke="#2ba283" stroke-width="0.75"/>
<rect x="573.89" y="332.7" width="2.6" height="3.6" fill="#2ba283"/>
<path d="M578.78 330.7V338.1" stroke="#e34c78" stroke-width="0.75"/>
<rect x="577.48" y="332.7" width="2.6" height="5.4" fill="#e34c78"/>
<path d="M582.37 337.2V340.0" stroke="#e34c78" stroke-width="0.75"/>
<rect x="581.07" y="337.2" width="2.6" height="1.8" fill="#e34c78"/>
<path d="M585.96 336.5V339.3" stroke="#2ba283" stroke-width="0.75"/>
<rect x="584.66" y="337.0" width="2.6" height="1.8" fill="#2ba283"/>
<path d="M589.55 335.0V338.3" stroke="#2ba283" stroke-width="0.75"/>
<rect x="588.25" y="336.5" width="2.6" height="1.8" fill="#2ba283"/>
<path d="M593.14 333.6V339.2" stroke="#2ba283" stroke-width="0.75"/>
<rect x="591.84" y="333.6" width="2.6" height="3.6" fill="#2ba283"/>
<path d="M596.73 329.7V334.1" stroke="#2ba283" stroke-width="0.75"/>
<rect x="595.43" y="330.2" width="2.6" height="3.4" fill="#2ba283"/>
<path d="M600.32 329.5V331.8" stroke="#e34c78" stroke-width="0.75"/>
<rect x="599.02" y="330.0" width="2.6" height="1.8" fill="#e34c78"/>
<path d="M603.91 330.1V339.7" stroke="#e34c78" stroke-width="0.75"/>
<rect x="602.62" y="331.6" width="2.6" height="7.1" fill="#e34c78"/>
<path d="M607.51 330.2V341.0" stroke="#2ba283" stroke-width="0.75"/>
<rect x="606.21" y="330.7" width="2.6" height="8.0" fill="#2ba283"/>
<path d="M611.10 327.8V333.1" stroke="#e34c78" stroke-width="0.75"/>
<rect x="609.80" y="329.8" width="2.6" height="1.8" fill="#e34c78"/>
<path d="M614.69 329.1V331.9" stroke="#2ba283" stroke-width="0.75"/>
<rect x="613.39" y="329.6" width="2.6" height="1.8" fill="#2ba283"/>
<path d="M618.28 314.8V330.2" stroke="#2ba283" stroke-width="0.75"/>
<rect x="616.98" y="327.3" width="2.6" height="2.8" fill="#2ba283"/>
<path d="M621.87 327.3V332.6" stroke="#e34c78" stroke-width="0.75"/>
<rect x="620.57" y="327.3" width="2.6" height="5.3" fill="#e34c78"/>
<path d="M625.46 332.1V337.8" stroke="#e34c78" stroke-width="0.75"/>
<rect x="624.16" y="332.6" width="2.6" height="5.3" fill="#e34c78"/>
<path d="M629.05 336.3V338.6" stroke="#2ba283" stroke-width="0.75"/>
<rect x="627.75" y="336.8" width="2.6" height="1.8" fill="#2ba283"/>
<path d="M632.64 335.3V338.6" stroke="#2ba283" stroke-width="0.75"/>
<rect x="631.34" y="335.8" width="2.6" height="1.8" fill="#2ba283"/>
<path d="M636.23 333.7V338.5" stroke="#2ba283" stroke-width="0.75"/>
<rect x="634.93" y="334.7" width="2.6" height="1.8" fill="#2ba283"/>
<path d="M639.83 333.6V335.9" stroke="#2ba283" stroke-width="0.75"/>
<rect x="638.53" y="333.6" width="2.6" height="1.8" fill="#2ba283"/>
<path d="M643.42 326.8V334.1" stroke="#2ba283" stroke-width="0.75"/>
<rect x="642.12" y="328.3" width="2.6" height="5.3" fill="#2ba283"/>
<path d="M647.01 326.3V336.9" stroke="#e34c78" stroke-width="0.75"/>
<rect x="645.71" y="328.3" width="2.6" height="7.1" fill="#e34c78"/>
<path d="M650.60 335.4V339.8" stroke="#e34c78" stroke-width="0.75"/>
<rect x="649.30" y="335.4" width="2.6" height="2.4" fill="#e34c78"/>
<path d="M654.19 331.1V337.8" stroke="#2ba283" stroke-width="0.75"/>
<rect x="652.89" y="332.6" width="2.6" height="5.3" fill="#2ba283"/>
<path d="M657.78 330.8V335.1" stroke="#2ba283" stroke-width="0.75"/>
<rect x="656.48" y="331.3" width="2.6" height="1.8" fill="#2ba283"/>
<path d="M661.37 329.1V334.4" stroke="#2ba283" stroke-width="0.75"/>
<rect x="660.07" y="330.6" width="2.6" height="1.8" fill="#2ba283"/>
<path d="M664.96 329.9V332.2" stroke="#2ba283" stroke-width="0.75"/>
<rect x="663.66" y="329.9" width="2.6" height="1.8" fill="#2ba283"/>
<path d="M668.55 329.0V331.3" stroke="#2ba283" stroke-width="0.75"/>
<rect x="667.25" y="329.0" width="2.6" height="1.8" fill="#2ba283"/>
<path d="M672.14 325.9V331.2" stroke="#2ba283" stroke-width="0.75"/>
<rect x="670.84" y="327.9" width="2.6" height="1.8" fill="#2ba283"/>
<path d="M675.74 327.8V330.7" stroke="#e34c78" stroke-width="0.75"/>
<rect x="674.44" y="328.3" width="2.6" height="2.4" fill="#e34c78"/>
<path d="M679.33 328.1V333.4" stroke="#e34c78" stroke-width="0.75"/>
<rect x="678.03" y="330.1" width="2.6" height="1.8" fill="#e34c78"/>
<path d="M682.92 330.7V336.4" stroke="#e34c78" stroke-width="0.75"/>
<rect x="681.62" y="331.2" width="2.6" height="4.7" fill="#e34c78"/>
<path d="M686.51 334.2V338.0" stroke="#2ba283" stroke-width="0.75"/>
<rect x="685.21" y="334.7" width="2.6" height="1.8" fill="#2ba283"/>
<path d="M690.10 330.7V336.9" stroke="#2ba283" stroke-width="0.75"/>
<rect x="688.80" y="330.7" width="2.6" height="4.7" fill="#2ba283"/>
<path d="M693.69 329.1V330.9" stroke="#2ba283" stroke-width="0.75"/>
<rect x="692.39" y="329.1" width="2.6" height="1.8" fill="#2ba283"/>
<path d="M697.28 329.3V332.2" stroke="#e34c78" stroke-width="0.75"/>
<rect x="695.98" y="329.3" width="2.6" height="2.8" fill="#e34c78"/>
<path d="M700.87 332.2V336.0" stroke="#e34c78" stroke-width="0.75"/>
<rect x="699.57" y="332.2" width="2.6" height="2.8" fill="#e34c78"/>
<path d="M704.46 333.6V337.9" stroke="#e34c78" stroke-width="0.75"/>
<rect x="703.16" y="334.1" width="2.6" height="1.8" fill="#e34c78"/>
<path d="M708.05 332.5V335.8" stroke="#2ba283" stroke-width="0.75"/>
<rect x="706.75" y="334.0" width="2.6" height="1.8" fill="#2ba283"/>
<path d="M711.64 332.5V337.3" stroke="#2ba283" stroke-width="0.75"/>
<rect x="710.35" y="333.5" width="2.6" height="1.8" fill="#2ba283"/>
<path d="M715.24 333.0V336.4" stroke="#e34c78" stroke-width="0.75"/>
<rect x="713.94" y="334.0" width="2.6" height="1.8" fill="#e34c78"/>
<path d="M718.83 333.0V336.8" stroke="#2ba283" stroke-width="0.75"/>
<rect x="717.53" y="334.5" width="2.6" height="1.8" fill="#2ba283"/>
<path d="M722.42 333.0V336.0" stroke="#2ba283" stroke-width="0.75"/>
<rect x="721.12" y="333.0" width="2.6" height="2.0" fill="#2ba283"/>
<path d="M726.01 330.9V333.7" stroke="#2ba283" stroke-width="0.75"/>
<rect x="724.71" y="331.9" width="2.6" height="1.8" fill="#2ba283"/>
<path d="M729.60 332.6V335.0" stroke="#e34c78" stroke-width="0.75"/>
<rect x="728.30" y="332.6" width="2.6" height="2.4" fill="#e34c78"/>
<path d="M733.19 332.1V337.4" stroke="#e34c78" stroke-width="0.75"/>
<rect x="731.89" y="334.1" width="2.6" height="1.8" fill="#e34c78"/>
<path d="M736.78 332.5V335.8" stroke="#2ba283" stroke-width="0.75"/>
<rect x="735.48" y="334.0" width="2.6" height="1.8" fill="#2ba283"/>
<path d="M740.37 332.8V337.1" stroke="#e34c78" stroke-width="0.75"/>
<rect x="739.07" y="333.8" width="2.6" height="1.8" fill="#e34c78"/>
<path d="M743.96 334.0V336.3" stroke="#e34c78" stroke-width="0.75"/>
<rect x="742.66" y="334.0" width="2.6" height="1.8" fill="#e34c78"/>
<path d="M747.56 331.8V340.4" stroke="#2ba283" stroke-width="0.75"/>
<rect x="746.26" y="333.8" width="2.6" height="1.8" fill="#2ba283"/>
<path d="M751.15 330.2V336.4" stroke="#2ba283" stroke-width="0.75"/>
<rect x="749.85" y="332.2" width="2.6" height="2.3" fill="#2ba283"/>
<path d="M754.74 330.8V332.6" stroke="#2ba283" stroke-width="0.75"/>
<rect x="753.44" y="330.8" width="2.6" height="1.8" fill="#2ba283"/>
<path d="M758.33 330.7V334.0" stroke="#e34c78" stroke-width="0.75"/>
<rect x="757.03" y="331.2" width="2.6" height="2.8" fill="#e34c78"/>
<path d="M761.92 332.1V335.4" stroke="#2ba283" stroke-width="0.75"/>
<rect x="760.62" y="332.6" width="2.6" height="1.8" fill="#2ba283"/>
<path d="M765.51 331.9V335.7" stroke="#2ba283" stroke-width="0.75"/>
<rect x="764.21" y="331.9" width="2.6" height="1.8" fill="#2ba283"/>
<path d="M769.10 329.7V333.1" stroke="#2ba283" stroke-width="0.75"/>
<rect x="767.80" y="330.7" width="2.6" height="1.8" fill="#2ba283"/>
<path d="M772.69 328.2V331.7" stroke="#2ba283" stroke-width="0.75"/>
<rect x="771.39" y="328.8" width="2.6" height="2.0" fill="#2ba283"/>
<path d="M776.28 326.4V330.8" stroke="#2ba283" stroke-width="0.75"/>
<rect x="774.98" y="326.9" width="2.6" height="1.8" fill="#2ba283"/>
<path d="M779.87 322.0V328.3" stroke="#e34c78" stroke-width="0.75"/>
<rect x="778.57" y="326.5" width="2.6" height="1.8" fill="#e34c78"/>
<path d="M783.47 325.2V329.0" stroke="#2ba283" stroke-width="0.75"/>
<rect x="782.17" y="326.7" width="2.6" height="1.8" fill="#2ba283"/>
<path d="M787.06 320.0V328.8" stroke="#2ba283" stroke-width="0.75"/>
<rect x="785.76" y="320.5" width="2.6" height="6.8" fill="#2ba283"/>
<path d="M790.65 312.0V322.7" stroke="#2ba283" stroke-width="0.75"/>
<rect x="789.35" y="318.9" width="2.6" height="1.8" fill="#2ba283"/>
<path d="M794.24 316.8V320.1" stroke="#2ba283" stroke-width="0.75"/>
<rect x="792.94" y="317.8" width="2.6" height="1.8" fill="#2ba283"/>
<path d="M797.83 308.4V321.1" stroke="#e34c78" stroke-width="0.75"/>
<rect x="796.53" y="318.3" width="2.6" height="1.8" fill="#e34c78"/>
<path d="M801.42 320.1V328.6" stroke="#e34c78" stroke-width="0.75"/>
<rect x="800.12" y="320.1" width="2.6" height="7.5" fill="#e34c78"/>
<path d="M805.01 326.7V332.6" stroke="#e34c78" stroke-width="0.75"/>
<rect x="803.71" y="326.7" width="2.6" height="1.8" fill="#e34c78"/>
<path d="M808.60 325.2V328.0" stroke="#2ba283" stroke-width="0.75"/>
<rect x="807.30" y="326.2" width="2.6" height="1.8" fill="#2ba283"/>
<path d="M812.19 323.3V327.6" stroke="#2ba283" stroke-width="0.75"/>
<rect x="810.89" y="325.3" width="2.6" height="1.8" fill="#2ba283"/>
<path d="M815.78 323.7V329.4" stroke="#e34c78" stroke-width="0.75"/>
<rect x="814.48" y="325.7" width="2.6" height="3.7" fill="#e34c78"/>
<path d="M819.38 327.7V330.5" stroke="#e34c78" stroke-width="0.75"/>
<rect x="818.08" y="328.7" width="2.6" height="1.8" fill="#e34c78"/>
<path d="M822.97 302.7V331.7" stroke="#2ba283" stroke-width="0.75"/>
<rect x="821.67" y="314.8" width="2.6" height="14.9" fill="#2ba283"/>
<path d="M826.56 305.9V314.8" stroke="#2ba283" stroke-width="0.75"/>
<rect x="825.26" y="305.9" width="2.6" height="8.9" fill="#2ba283"/>
<path d="M830.15 300.6V314.8" stroke="#e34c78" stroke-width="0.75"/>
<rect x="828.85" y="305.7" width="2.6" height="1.8" fill="#e34c78"/>
<path d="M833.74 305.4V309.7" stroke="#e34c78" stroke-width="0.75"/>
<rect x="832.44" y="306.4" width="2.6" height="1.8" fill="#e34c78"/>
<path d="M837.33 305.9V308.7" stroke="#2ba283" stroke-width="0.75"/>
<rect x="836.03" y="305.9" width="2.6" height="1.8" fill="#2ba283"/>
<path d="M840.92 302.4V306.8" stroke="#2ba283" stroke-width="0.75"/>
<rect x="839.62" y="302.4" width="2.6" height="3.8" fill="#2ba283"/>
<path d="M844.51 296.3V306.9" stroke="#e34c78" stroke-width="0.75"/>
<rect x="843.21" y="302.4" width="2.6" height="3.4" fill="#e34c78"/>
<path d="M848.10 302.9V306.9" stroke="#2ba283" stroke-width="0.75"/>
<rect x="846.80" y="303.9" width="2.6" height="2.0" fill="#2ba283"/>
<path d="M851.69 301.8V306.1" stroke="#2ba283" stroke-width="0.75"/>
<rect x="850.39" y="302.3" width="2.6" height="1.8" fill="#2ba283"/>
<path d="M855.28 288.5V302.4" stroke="#2ba283" stroke-width="0.75"/>
<rect x="853.99" y="297.3" width="2.6" height="5.1" fill="#2ba283"/>
<path d="M858.88 295.9V298.7" stroke="#e34c78" stroke-width="0.75"/>
<rect x="857.58" y="296.9" width="2.6" height="1.8" fill="#e34c78"/>
<path d="M862.47 298.2V303.9" stroke="#e34c78" stroke-width="0.75"/>
<rect x="861.17" y="298.2" width="2.6" height="5.7" fill="#e34c78"/>
<path d="M866.06 303.4V307.3" stroke="#e34c78" stroke-width="0.75"/>
<rect x="864.76" y="303.9" width="2.6" height="3.4" fill="#e34c78"/>
<path d="M869.65 299.6V307.3" stroke="#2ba283" stroke-width="0.75"/>
<rect x="868.35" y="301.6" width="2.6" height="5.7" fill="#2ba283"/>
<path d="M873.24 297.2V302.1" stroke="#2ba283" stroke-width="0.75"/>
<rect x="871.94" y="298.2" width="2.6" height="3.4" fill="#2ba283"/>
<path d="M876.83 297.2V304.9" stroke="#e34c78" stroke-width="0.75"/>
<rect x="875.53" y="298.2" width="2.6" height="6.7" fill="#e34c78"/>
<path d="M880.42 302.3V306.1" stroke="#e34c78" stroke-width="0.75"/>
<rect x="879.12" y="304.3" width="2.6" height="1.8" fill="#e34c78"/>
<path d="M884.01 304.2V307.0" stroke="#e34c78" stroke-width="0.75"/>
<rect x="882.71" y="304.7" width="2.6" height="1.8" fill="#e34c78"/>
<path d="M887.60 304.0V307.8" stroke="#e34c78" stroke-width="0.75"/>
<rect x="886.30" y="305.0" width="2.6" height="1.8" fill="#e34c78"/>
<path d="M891.20 305.3V310.5" stroke="#e34c78" stroke-width="0.75"/>
<rect x="889.90" y="306.3" width="2.6" height="3.3" fill="#e34c78"/>
<path d="M894.79 309.5V314.2" stroke="#e34c78" stroke-width="0.75"/>
<rect x="893.49" y="309.5" width="2.6" height="3.1" fill="#e34c78"/>
<path d="M898.38 308.2V313.2" stroke="#2ba283" stroke-width="0.75"/>
<rect x="897.08" y="308.7" width="2.6" height="4.0" fill="#2ba283"/>
<path d="M901.97 307.0V310.8" stroke="#e34c78" stroke-width="0.75"/>
<rect x="900.67" y="308.0" width="2.6" height="1.8" fill="#e34c78"/>
<path d="M905.56 301.4V309.6" stroke="#2ba283" stroke-width="0.75"/>
<rect x="904.26" y="303.4" width="2.6" height="5.7" fill="#2ba283"/>
<path d="M909.15 302.4V305.3" stroke="#e34c78" stroke-width="0.75"/>
<rect x="907.85" y="303.4" width="2.6" height="1.8" fill="#e34c78"/>
<path d="M912.74 303.6V307.9" stroke="#e34c78" stroke-width="0.75"/>
<rect x="911.44" y="305.1" width="2.6" height="1.8" fill="#e34c78"/>
<path d="M916.33 306.2V311.1" stroke="#e34c78" stroke-width="0.75"/>
<rect x="915.03" y="306.7" width="2.6" height="3.4" fill="#e34c78"/>
<path d="M919.92 307.0V312.1" stroke="#2ba283" stroke-width="0.75"/>
<rect x="918.62" y="307.0" width="2.6" height="3.1" fill="#2ba283"/>
<path d="M923.51 294.2V307.0" stroke="#2ba283" stroke-width="0.75"/>
<rect x="922.21" y="302.4" width="2.6" height="4.5" fill="#2ba283"/>
<path d="M927.11 301.9V304.4" stroke="#e34c78" stroke-width="0.75"/>
<rect x="925.81" y="302.4" width="2.6" height="2.0" fill="#e34c78"/>
<path d="M930.70 303.9V309.6" stroke="#e34c78" stroke-width="0.75"/>
<rect x="929.40" y="304.4" width="2.6" height="4.7" fill="#e34c78"/>
<path d="M934.29 308.1V310.4" stroke="#e34c78" stroke-width="0.75"/>
<rect x="932.99" y="308.6" width="2.6" height="1.8" fill="#e34c78"/>
<path d="M937.88 307.8V311.1" stroke="#e34c78" stroke-width="0.75"/>
<rect x="936.58" y="309.3" width="2.6" height="1.8" fill="#e34c78"/>
<path d="M941.47 308.9V311.2" stroke="#2ba283" stroke-width="0.75"/>
<rect x="940.17" y="309.4" width="2.6" height="1.8" fill="#2ba283"/>
<path d="M945.06 309.2V312.5" stroke="#e34c78" stroke-width="0.75"/>
<rect x="943.76" y="309.2" width="2.6" height="1.8" fill="#e34c78"/>
<path d="M948.65 308.9V313.2" stroke="#e34c78" stroke-width="0.75"/>
<rect x="947.35" y="309.4" width="2.6" height="1.8" fill="#e34c78"/>
<path d="M952.24 309.6V313.4" stroke="#e34c78" stroke-width="0.75"/>
<rect x="950.94" y="309.6" width="2.6" height="1.8" fill="#e34c78"/>
<path d="M955.83 310.5V319.6" stroke="#e34c78" stroke-width="0.75"/>
<rect x="954.53" y="310.5" width="2.6" height="7.5" fill="#e34c78"/>
<path d="M959.42 316.6V321.6" stroke="#e34c78" stroke-width="0.75"/>
<rect x="958.12" y="318.1" width="2.6" height="2.0" fill="#e34c78"/>
<path d="M963.01 313.9V320.1" stroke="#2ba283" stroke-width="0.75"/>
<rect x="961.72" y="314.4" width="2.6" height="5.7" fill="#2ba283"/>
<path d="M966.61 312.5V314.8" stroke="#2ba283" stroke-width="0.75"/>
<rect x="965.31" y="313.0" width="2.6" height="1.8" fill="#2ba283"/>
<path d="M970.20 312.9V315.2" stroke="#e34c78" stroke-width="0.75"/>
<rect x="968.90" y="313.4" width="2.6" height="1.8" fill="#e34c78"/>
<path d="M973.79 312.8V316.1" stroke="#e34c78" stroke-width="0.75"/>
<rect x="972.49" y="314.3" width="2.6" height="1.8" fill="#e34c78"/>
<path d="M977.38 310.5V315.7" stroke="#2ba283" stroke-width="0.75"/>
<rect x="976.08" y="311.0" width="2.6" height="4.3" fill="#2ba283"/>
<path d="M980.97 309.4V312.7" stroke="#2ba283" stroke-width="0.75"/>
<rect x="979.67" y="309.4" width="2.6" height="1.8" fill="#2ba283"/>
<path d="M984.56 306.3V310.1" stroke="#2ba283" stroke-width="0.75"/>
<rect x="983.26" y="308.3" width="2.6" height="1.8" fill="#2ba283"/>
<path d="M988.15 308.8V312.7" stroke="#e34c78" stroke-width="0.75"/>
<rect x="986.85" y="308.8" width="2.6" height="2.4" fill="#e34c78"/>
<path d="M991.74 310.7V314.1" stroke="#e34c78" stroke-width="0.75"/>
<rect x="990.44" y="311.2" width="2.6" height="1.9" fill="#e34c78"/>
<path d="M995.33 312.0V314.8" stroke="#e34c78" stroke-width="0.75"/>
<rect x="994.03" y="312.5" width="2.6" height="1.8" fill="#e34c78"/>
<path d="M998.93 312.6V314.9" stroke="#e34c78" stroke-width="0.75"/>
<rect x="997.63" y="313.1" width="2.6" height="1.8" fill="#e34c78"/>
<path d="M1002.52 312.6V315.4" stroke="#2ba283" stroke-width="0.75"/>
<rect x="1001.22" y="313.1" width="2.6" height="1.8" fill="#2ba283"/>
<path d="M1006.11 313.6V320.0" stroke="#e34c78" stroke-width="0.75"/>
<rect x="1004.81" y="313.6" width="2.6" height="4.9" fill="#e34c78"/>
<path d="M1009.70 317.1V319.4" stroke="#e34c78" stroke-width="0.75"/>
<rect x="1008.40" y="317.6" width="2.6" height="1.8" fill="#e34c78"/>
<path d="M1013.29 318.0V322.2" stroke="#e34c78" stroke-width="0.75"/>
<rect x="1011.99" y="318.5" width="2.6" height="2.8" fill="#e34c78"/>
<path d="M1016.88 320.7V324.9" stroke="#e34c78" stroke-width="0.75"/>
<rect x="1015.58" y="321.2" width="2.6" height="3.2" fill="#e34c78"/>
<path d="M1020.47 322.0V325.3" stroke="#e34c78" stroke-width="0.75"/>
<rect x="1019.17" y="323.5" width="2.6" height="1.8" fill="#e34c78"/>
<path d="M1024.06 323.0V325.8" stroke="#e34c78" stroke-width="0.75"/>
<rect x="1022.76" y="323.5" width="2.6" height="1.8" fill="#e34c78"/>
<path d="M1027.65 322.4V326.2" stroke="#2ba283" stroke-width="0.75"/>
<rect x="1026.35" y="323.4" width="2.6" height="1.8" fill="#2ba283"/>
<path d="M1031.24 322.6V325.9" stroke="#2ba283" stroke-width="0.75"/>
<rect x="1029.94" y="323.1" width="2.6" height="1.8" fill="#2ba283"/>
<path d="M1034.84 322.9V324.7" stroke="#e34c78" stroke-width="0.75"/>
<rect x="1033.54" y="322.9" width="2.6" height="1.8" fill="#e34c78"/>
<path d="M1038.43 321.7V325.5" stroke="#e34c78" stroke-width="0.75"/>
<rect x="1037.13" y="323.7" width="2.6" height="1.8" fill="#e34c78"/>
<path d="M1042.02 325.1V326.9" stroke="#e34c78" stroke-width="0.75"/>
<rect x="1040.72" y="325.1" width="2.6" height="1.8" fill="#e34c78"/>
<path d="M1045.61 326.1V329.8" stroke="#e34c78" stroke-width="0.75"/>
<rect x="1044.31" y="326.6" width="2.6" height="2.8" fill="#e34c78"/>
<path d="M1049.20 327.6V331.4" stroke="#2ba283" stroke-width="0.75"/>
<rect x="1047.90" y="327.6" width="2.6" height="1.8" fill="#2ba283"/>
<path d="M1052.79 326.5V328.8" stroke="#2ba283" stroke-width="0.75"/>
<rect x="1051.49" y="326.5" width="2.6" height="1.8" fill="#2ba283"/>
<path d="M1056.38 323.7V327.5" stroke="#2ba283" stroke-width="0.75"/>
<rect x="1055.08" y="325.7" width="2.6" height="1.8" fill="#2ba283"/>
<path d="M1059.97 324.1V329.2" stroke="#e34c78" stroke-width="0.75"/>
<rect x="1058.67" y="326.1" width="2.6" height="2.6" fill="#e34c78"/>
<path d="M1063.56 325.3V330.6" stroke="#2ba283" stroke-width="0.75"/>
<rect x="1062.26" y="327.3" width="2.6" height="1.8" fill="#2ba283"/>
<path d="M1067.15 322.4V328.2" stroke="#2ba283" stroke-width="0.75"/>
<rect x="1065.85" y="324.4" width="2.6" height="3.2" fill="#2ba283"/>
<path d="M1070.75 322.9V325.2" stroke="#2ba283" stroke-width="0.75" opacity="0.4"/>
<rect x="1069.45" y="323.4" width="2.6" height="1.8" fill="#2ba283" opacity="0.4"/>
<path d="M1074.34 322.4V326.2" stroke="#e34c78" stroke-width="0.75" opacity="0.4"/>
<rect x="1073.04" y="323.4" width="2.6" height="1.8" fill="#e34c78" opacity="0.4"/>
<path d="M1077.93 322.8V326.1" stroke="#e34c78" stroke-width="0.75" opacity="0.4"/>
<rect x="1076.63" y="323.8" width="2.6" height="1.8" fill="#e34c78" opacity="0.4"/>
<path d="M1081.52 323.5V414.7" stroke="#e34c78" stroke-width="0.75"/>
<rect x="1080.22" y="324.9" width="2.6" height="40.5" fill="#e34c78"/>
<path d="M1085.11 364.5V366.8" stroke="#e34c78" stroke-width="0.75" opacity="0.4"/>
<rect x="1083.81" y="364.5" width="2.6" height="1.8" fill="#e34c78" opacity="0.4"/>
<path d="M1088.70 364.2V368.0" stroke="#2ba283" stroke-width="0.75" opacity="0.4"/>
<rect x="1087.40" y="364.2" width="2.6" height="1.8" fill="#2ba283" opacity="0.4"/>
</g>
<path d="M1016.7 415.3H1336" stroke="#1a1410" stroke-width="1.6" stroke-dasharray="1.8 2.89"/>
<!-- ENJ candles -->
<g>
<path d="M11.40 440.0V461.8" stroke="#e34c78" stroke-width="0.75"/>
<rect x="10.10" y="445.1" width="2.6" height="9.0" fill="#e34c78"/>
<path d="M14.99 453.5V468.6" stroke="#e34c78" stroke-width="0.75"/>
<rect x="13.69" y="454.0" width="2.6" height="14.6" fill="#e34c78"/>
<path d="M18.58 468.1V490.5" stroke="#e34c78" stroke-width="0.75"/>
<rect x="17.28" y="468.6" width="2.6" height="21.9" fill="#e34c78"/>
<path d="M22.17 489.0V510.0" stroke="#e34c78" stroke-width="0.75"/>
<rect x="20.87" y="490.5" width="2.6" height="19.5" fill="#e34c78"/>
<path d="M25.76 500.6V535.8" stroke="#2ba283" stroke-width="0.75"/>
<rect x="24.46" y="502.6" width="2.6" height="7.4" fill="#2ba283"/>
<path d="M29.36 489.9V511.7" stroke="#e34c78" stroke-width="0.75"/>
<rect x="28.06" y="502.6" width="2.6" height="8.1" fill="#e34c78"/>
<path d="M32.95 508.7V514.5" stroke="#e34c78" stroke-width="0.75"/>
<rect x="31.65" y="510.7" width="2.6" height="3.8" fill="#e34c78"/>
<path d="M36.54 498.2V515.0" stroke="#2ba283" stroke-width="0.75"/>
<rect x="35.24" y="498.2" width="2.6" height="16.3" fill="#2ba283"/>
<path d="M40.13 487.2V498.2" stroke="#2ba283" stroke-width="0.75"/>
<rect x="38.83" y="489.2" width="2.6" height="9.0" fill="#2ba283"/>
<path d="M43.72 488.7V496.6" stroke="#e34c78" stroke-width="0.75"/>
<rect x="42.42" y="489.2" width="2.6" height="7.4" fill="#e34c78"/>
<path d="M47.31 496.1V512.6" stroke="#e34c78" stroke-width="0.75"/>
<rect x="46.01" y="496.6" width="2.6" height="15.0" fill="#e34c78"/>
<path d="M50.90 509.7V512.5" stroke="#2ba283" stroke-width="0.75"/>
<rect x="49.60" y="510.2" width="2.6" height="1.8" fill="#2ba283"/>
<path d="M54.49 500.7V510.7" stroke="#2ba283" stroke-width="0.75"/>
<rect x="53.19" y="501.7" width="2.6" height="9.0" fill="#2ba283"/>
<path d="M58.08 501.7V511.7" stroke="#e34c78" stroke-width="0.75"/>
<rect x="56.78" y="501.7" width="2.6" height="9.0" fill="#e34c78"/>
<path d="M61.67 508.5V511.8" stroke="#e34c78" stroke-width="0.75"/>
<rect x="60.37" y="510.0" width="2.6" height="1.8" fill="#e34c78"/>
<path d="M65.27 511.1V519.0" stroke="#e34c78" stroke-width="0.75"/>
<rect x="63.97" y="511.1" width="2.6" height="7.8" fill="#e34c78"/>
<path d="M68.86 511.1V519.0" stroke="#2ba283" stroke-width="0.75"/>
<rect x="67.56" y="511.6" width="2.6" height="7.4" fill="#2ba283"/>
<path d="M72.45 506.2V511.6" stroke="#2ba283" stroke-width="0.75"/>
<rect x="71.15" y="506.2" width="2.6" height="5.4" fill="#2ba283"/>
<path d="M76.04 490.9V507.7" stroke="#2ba283" stroke-width="0.75"/>
<rect x="74.74" y="491.4" width="2.6" height="14.8" fill="#2ba283"/>
<path d="M79.63 490.0V493.3" stroke="#e34c78" stroke-width="0.75"/>
<rect x="78.33" y="490.5" width="2.6" height="1.8" fill="#e34c78"/>
<path d="M83.22 488.3V492.1" stroke="#2ba283" stroke-width="0.75"/>
<rect x="81.92" y="490.3" width="2.6" height="1.8" fill="#2ba283"/>
<path d="M86.81 487.6V491.5" stroke="#2ba283" stroke-width="0.75"/>
<rect x="85.51" y="488.1" width="2.6" height="2.9" fill="#2ba283"/>
<path d="M90.40 487.1V511.5" stroke="#e34c78" stroke-width="0.75"/>
<rect x="89.10" y="488.1" width="2.6" height="21.9" fill="#e34c78"/>
<path d="M93.99 510.0V518.4" stroke="#e34c78" stroke-width="0.75"/>
<rect x="92.69" y="510.0" width="2.6" height="7.8" fill="#e34c78"/>
<path d="M97.58 517.4V527.7" stroke="#e34c78" stroke-width="0.75"/>
<rect x="96.28" y="517.9" width="2.6" height="7.8" fill="#e34c78"/>
<path d="M101.18 523.5V526.2" stroke="#2ba283" stroke-width="0.75"/>
<rect x="99.88" y="523.5" width="2.6" height="2.2" fill="#2ba283"/>
<path d="M104.77 522.0V523.8" stroke="#2ba283" stroke-width="0.75"/>
<rect x="103.47" y="522.0" width="2.6" height="1.8" fill="#2ba283"/>
<path d="M108.36 522.3V528.3" stroke="#e34c78" stroke-width="0.75"/>
<rect x="107.06" y="522.3" width="2.6" height="4.5" fill="#e34c78"/>
<path d="M111.95 525.8V533.4" stroke="#e34c78" stroke-width="0.75"/>
<rect x="110.65" y="526.8" width="2.6" height="5.6" fill="#e34c78"/>
<path d="M115.54 525.0V533.4" stroke="#2ba283" stroke-width="0.75"/>
<rect x="114.24" y="525.0" width="2.6" height="7.4" fill="#2ba283"/>
<path d="M119.13 515.6V525.0" stroke="#2ba283" stroke-width="0.75"/>
<rect x="117.83" y="516.1" width="2.6" height="9.0" fill="#2ba283"/>
<path d="M122.72 515.6V523.5" stroke="#e34c78" stroke-width="0.75"/>
<rect x="121.42" y="516.1" width="2.6" height="7.4" fill="#e34c78"/>
<path d="M126.31 510.8V525.5" stroke="#2ba283" stroke-width="0.75"/>
<rect x="125.01" y="512.3" width="2.6" height="11.2" fill="#2ba283"/>
<path d="M129.90 510.8V528.4" stroke="#e34c78" stroke-width="0.75"/>
<rect x="128.60" y="512.3" width="2.6" height="15.7" fill="#e34c78"/>
<path d="M133.49 526.4V547.5" stroke="#e34c78" stroke-width="0.75"/>
<rect x="132.19" y="527.9" width="2.6" height="19.0" fill="#e34c78"/>
<path d="M137.09 546.0V552.3" stroke="#e34c78" stroke-width="0.75"/>
<rect x="135.78" y="547.0" width="2.6" height="3.4" fill="#e34c78"/>
<path d="M140.68 546.0V551.3" stroke="#2ba283" stroke-width="0.75"/>
<rect x="139.38" y="546.5" width="2.6" height="3.8" fill="#2ba283"/>
<path d="M144.27 546.0V551.2" stroke="#e34c78" stroke-width="0.75"/>
<rect x="142.97" y="546.5" width="2.6" height="3.1" fill="#e34c78"/>
<path d="M147.86 549.1V550.9" stroke="#e34c78" stroke-width="0.75"/>
<rect x="146.56" y="549.1" width="2.6" height="1.8" fill="#e34c78"/>
<path d="M151.45 549.8V553.7" stroke="#e34c78" stroke-width="0.75"/>
<rect x="150.15" y="550.3" width="2.6" height="3.4" fill="#e34c78"/>
<path d="M155.04 550.8V556.1" stroke="#e34c78" stroke-width="0.75"/>
<rect x="153.74" y="552.8" width="2.6" height="1.8" fill="#e34c78"/>
<path d="M158.63 552.2V559.2" stroke="#e34c78" stroke-width="0.75"/>
<rect x="157.33" y="553.7" width="2.6" height="4.0" fill="#e34c78"/>
<path d="M162.22 557.7V560.5" stroke="#e34c78" stroke-width="0.75"/>
<rect x="160.92" y="557.7" width="2.6" height="2.2" fill="#e34c78"/>
<path d="M165.81 559.5V571.6" stroke="#e34c78" stroke-width="0.75"/>
<rect x="164.51" y="560.0" width="2.6" height="11.6" fill="#e34c78"/>
<path d="M169.40 566.7V571.6" stroke="#2ba283" stroke-width="0.75"/>
<rect x="168.10" y="568.7" width="2.6" height="2.9" fill="#2ba283"/>
<path d="M173.00 563.1V568.7" stroke="#2ba283" stroke-width="0.75"/>
<rect x="171.69" y="563.1" width="2.6" height="5.6" fill="#2ba283"/>
<path d="M176.59 558.9V564.6" stroke="#2ba283" stroke-width="0.75"/>
<rect x="175.29" y="560.4" width="2.6" height="2.7" fill="#2ba283"/>
<path d="M180.18 559.9V569.4" stroke="#e34c78" stroke-width="0.75"/>
<rect x="178.88" y="560.4" width="2.6" height="8.5" fill="#e34c78"/>
<path d="M183.77 568.9V585.1" stroke="#e34c78" stroke-width="0.75"/>
<rect x="182.47" y="568.9" width="2.6" height="16.1" fill="#e34c78"/>
<path d="M187.36 582.8V609.7" stroke="#2ba283" stroke-width="0.75"/>
<rect x="186.06" y="582.8" width="2.6" height="2.2" fill="#2ba283"/>
<path d="M190.95 580.8V589.6" stroke="#e34c78" stroke-width="0.75"/>
<rect x="189.65" y="582.8" width="2.6" height="6.3" fill="#e34c78"/>
<path d="M194.54 585.3V590.1" stroke="#2ba283" stroke-width="0.75"/>
<rect x="193.24" y="587.3" width="2.6" height="1.8" fill="#2ba283"/>
<path d="M198.13 585.8V592.3" stroke="#e34c78" stroke-width="0.75"/>
<rect x="196.83" y="587.3" width="2.6" height="4.5" fill="#e34c78"/>
<path d="M201.72 589.3V592.1" stroke="#2ba283" stroke-width="0.75"/>
<rect x="200.42" y="590.3" width="2.6" height="1.8" fill="#2ba283"/>
<path d="M205.31 585.8V591.0" stroke="#2ba283" stroke-width="0.75"/>
<rect x="204.01" y="587.3" width="2.6" height="3.3" fill="#2ba283"/>
<path d="M208.91 586.6V588.9" stroke="#e34c78" stroke-width="0.75"/>
<rect x="207.61" y="586.6" width="2.6" height="1.8" fill="#e34c78"/>
<path d="M212.50 585.9V587.7" stroke="#2ba283" stroke-width="0.75"/>
<rect x="211.20" y="585.9" width="2.6" height="1.8" fill="#2ba283"/>
<path d="M216.09 577.8V587.1" stroke="#2ba283" stroke-width="0.75"/>
<rect x="214.79" y="584.8" width="2.6" height="1.8" fill="#2ba283"/>
<path d="M219.68 578.5V586.1" stroke="#2ba283" stroke-width="0.75"/>
<rect x="218.38" y="578.5" width="2.6" height="7.1" fill="#2ba283"/>
<path d="M223.27 578.0V583.9" stroke="#e34c78" stroke-width="0.75"/>
<rect x="221.97" y="578.5" width="2.6" height="5.0" fill="#e34c78"/>
<path d="M226.86 580.8V584.1" stroke="#2ba283" stroke-width="0.75"/>
<rect x="225.56" y="581.8" width="2.6" height="1.8" fill="#2ba283"/>
<path d="M230.45 581.1V582.9" stroke="#e34c78" stroke-width="0.75"/>
<rect x="229.15" y="581.1" width="2.6" height="1.8" fill="#e34c78"/>
<path d="M234.04 581.5V585.3" stroke="#e34c78" stroke-width="0.75"/>
<rect x="232.74" y="582.0" width="2.6" height="3.3" fill="#e34c78"/>
<path d="M237.63 584.0V586.3" stroke="#e34c78" stroke-width="0.75"/>
<rect x="236.33" y="584.5" width="2.6" height="1.8" fill="#e34c78"/>
<path d="M241.22 585.6V593.4" stroke="#e34c78" stroke-width="0.75"/>
<rect x="239.92" y="585.6" width="2.6" height="4.5" fill="#e34c78"/>
<path d="M244.82 586.2V590.1" stroke="#2ba283" stroke-width="0.75"/>
<rect x="243.52" y="586.7" width="2.6" height="3.4" fill="#2ba283"/>
<path d="M248.41 582.5V587.2" stroke="#2ba283" stroke-width="0.75"/>
<rect x="247.11" y="583.0" width="2.6" height="3.7" fill="#2ba283"/>
<path d="M252.00 582.0V588.8" stroke="#e34c78" stroke-width="0.75"/>
<rect x="250.70" y="583.0" width="2.6" height="4.3" fill="#e34c78"/>
<path d="M255.59 583.9V587.3" stroke="#2ba283" stroke-width="0.75"/>
<rect x="254.29" y="583.9" width="2.6" height="3.4" fill="#2ba283"/>
<path d="M259.18 582.9V587.9" stroke="#e34c78" stroke-width="0.75"/>
<rect x="257.88" y="583.9" width="2.6" height="2.0" fill="#e34c78"/>
<path d="M262.77 585.9V598.4" stroke="#e34c78" stroke-width="0.75"/>
<rect x="261.47" y="585.9" width="2.6" height="12.5" fill="#e34c78"/>
<path d="M266.36 593.3V600.4" stroke="#2ba283" stroke-width="0.75"/>
<rect x="265.06" y="593.8" width="2.6" height="4.5" fill="#2ba283"/>
<path d="M269.95 592.7V594.5" stroke="#2ba283" stroke-width="0.75"/>
<rect x="268.65" y="592.7" width="2.6" height="1.8" fill="#2ba283"/>
<path d="M273.54 591.0V594.4" stroke="#2ba283" stroke-width="0.75"/>
<rect x="272.24" y="591.5" width="2.6" height="1.8" fill="#2ba283"/>
<path d="M277.13 590.8V593.1" stroke="#e34c78" stroke-width="0.75"/>
<rect x="275.83" y="590.8" width="2.6" height="1.8" fill="#e34c78"/>
<path d="M280.72 592.0V594.3" stroke="#e34c78" stroke-width="0.75"/>
<rect x="279.42" y="592.0" width="2.6" height="1.8" fill="#e34c78"/>
<path d="M284.32 585.8V595.3" stroke="#2ba283" stroke-width="0.75"/>
<rect x="283.02" y="586.3" width="2.6" height="7.5" fill="#2ba283"/>
<path d="M287.91 586.3V599.8" stroke="#e34c78" stroke-width="0.75"/>
<rect x="286.61" y="586.3" width="2.6" height="13.5" fill="#e34c78"/>
<path d="M291.50 598.2V606.9" stroke="#e34c78" stroke-width="0.75"/>
<rect x="290.20" y="599.2" width="2.6" height="1.8" fill="#e34c78"/>
<path d="M295.09 596.1V602.5" stroke="#2ba283" stroke-width="0.75"/>
<rect x="293.79" y="598.1" width="2.6" height="2.4" fill="#2ba283"/>
<path d="M298.68 598.1V601.6" stroke="#e34c78" stroke-width="0.75"/>
<rect x="297.38" y="598.1" width="2.6" height="2.0" fill="#e34c78"/>
<path d="M302.27 597.9V603.2" stroke="#e34c78" stroke-width="0.75"/>
<rect x="300.97" y="599.4" width="2.6" height="1.8" fill="#e34c78"/>
<path d="M305.86 599.1V602.4" stroke="#e34c78" stroke-width="0.75"/>
<rect x="304.56" y="600.1" width="2.6" height="1.8" fill="#e34c78"/>
<path d="M309.45 599.5V610.9" stroke="#e34c78" stroke-width="0.75"/>
<rect x="308.15" y="601.5" width="2.6" height="8.9" fill="#e34c78"/>
<path d="M313.04 608.9V613.3" stroke="#e34c78" stroke-width="0.75"/>
<rect x="311.74" y="610.4" width="2.6" height="2.4" fill="#e34c78"/>
<path d="M316.63 609.0V616.1" stroke="#2ba283" stroke-width="0.75"/>
<rect x="315.33" y="609.0" width="2.6" height="3.8" fill="#2ba283"/>
<path d="M320.23 606.6V610.9" stroke="#e34c78" stroke-width="0.75"/>
<rect x="318.93" y="608.1" width="2.6" height="1.8" fill="#e34c78"/>
<path d="M323.82 607.0V610.3" stroke="#e34c78" stroke-width="0.75"/>
<rect x="322.52" y="608.5" width="2.6" height="1.8" fill="#e34c78"/>
<path d="M327.41 608.5V612.3" stroke="#2ba283" stroke-width="0.75"/>
<rect x="326.11" y="608.5" width="2.6" height="1.8" fill="#2ba283"/>
<path d="M331.00 605.8V611.1" stroke="#2ba283" stroke-width="0.75"/>
<rect x="329.70" y="607.8" width="2.6" height="1.8" fill="#2ba283"/>
<path d="M334.59 607.3V612.4" stroke="#e34c78" stroke-width="0.75"/>
<rect x="333.29" y="608.3" width="2.6" height="2.6" fill="#e34c78"/>
<path d="M338.18 608.1V612.4" stroke="#2ba283" stroke-width="0.75"/>
<rect x="336.88" y="608.6" width="2.6" height="2.3" fill="#2ba283"/>
<path d="M341.77 606.4V611.7" stroke="#e34c78" stroke-width="0.75"/>
<rect x="340.47" y="607.9" width="2.6" height="1.8" fill="#e34c78"/>
<path d="M345.36 605.2V609.0" stroke="#2ba283" stroke-width="0.75"/>
<rect x="344.06" y="606.2" width="2.6" height="2.8" fill="#2ba283"/>
<path d="M348.95 605.2V611.4" stroke="#e34c78" stroke-width="0.75"/>
<rect x="347.65" y="606.2" width="2.6" height="3.3" fill="#e34c78"/>
<path d="M352.55 607.7V611.5" stroke="#e34c78" stroke-width="0.75"/>
<rect x="351.25" y="608.7" width="2.6" height="1.8" fill="#e34c78"/>
<path d="M356.14 606.5V612.3" stroke="#2ba283" stroke-width="0.75"/>
<rect x="354.84" y="608.5" width="2.6" height="1.8" fill="#2ba283"/>
<path d="M359.73 605.8V609.6" stroke="#2ba283" stroke-width="0.75"/>
<rect x="358.43" y="607.8" width="2.6" height="1.8" fill="#2ba283"/>
<path d="M363.32 602.3V609.8" stroke="#2ba283" stroke-width="0.75"/>
<rect x="362.02" y="604.3" width="2.6" height="4.0" fill="#2ba283"/>
<path d="M366.91 601.3V606.3" stroke="#2ba283" stroke-width="0.75"/>
<rect x="365.61" y="602.3" width="2.6" height="2.0" fill="#2ba283"/>
<path d="M370.50 600.4V605.2" stroke="#e34c78" stroke-width="0.75"/>
<rect x="369.20" y="601.9" width="2.6" height="1.8" fill="#e34c78"/>
<path d="M374.09 601.4V606.2" stroke="#e34c78" stroke-width="0.75"/>
<rect x="372.79" y="602.9" width="2.6" height="1.8" fill="#e34c78"/>
<path d="M377.68 604.3V611.1" stroke="#e34c78" stroke-width="0.75"/>
<rect x="376.38" y="604.3" width="2.6" height="6.8" fill="#e34c78"/>
<path d="M381.27 611.1V615.4" stroke="#e34c78" stroke-width="0.75"/>
<rect x="379.97" y="611.1" width="2.6" height="4.3" fill="#e34c78"/>
<path d="M384.86 614.1V617.4" stroke="#2ba283" stroke-width="0.75"/>
<rect x="383.56" y="614.1" width="2.6" height="1.8" fill="#2ba283"/>
<path d="M388.45 613.8V616.1" stroke="#e34c78" stroke-width="0.75"/>
<rect x="387.15" y="614.3" width="2.6" height="1.8" fill="#e34c78"/>
<path d="M392.05 614.5V618.8" stroke="#e34c78" stroke-width="0.75"/>
<rect x="390.75" y="615.0" width="2.6" height="1.8" fill="#e34c78"/>
<path d="M395.64 615.6V622.9" stroke="#e34c78" stroke-width="0.75"/>
<rect x="394.34" y="616.1" width="2.6" height="5.8" fill="#e34c78"/>
<path d="M399.23 620.8V624.1" stroke="#2ba283" stroke-width="0.75"/>
<rect x="397.93" y="620.8" width="2.6" height="1.8" fill="#2ba283"/>
<path d="M402.82 621.0V624.3" stroke="#e34c78" stroke-width="0.75"/>
<rect x="401.52" y="621.0" width="2.6" height="1.8" fill="#e34c78"/>
<path d="M406.41 620.5V624.8" stroke="#e34c78" stroke-width="0.75"/>
<rect x="405.11" y="621.5" width="2.6" height="1.8" fill="#e34c78"/>
<path d="M410.00 622.6V629.2" stroke="#e34c78" stroke-width="0.75"/>
<rect x="408.70" y="622.6" width="2.6" height="6.1" fill="#e34c78"/>
<path d="M413.59 626.6V631.8" stroke="#2ba283" stroke-width="0.75"/>
<rect x="412.29" y="627.1" width="2.6" height="1.8" fill="#2ba283"/>
<path d="M417.18 626.8V632.1" stroke="#e34c78" stroke-width="0.75"/>
<rect x="415.88" y="627.3" width="2.6" height="2.8" fill="#e34c78"/>
<path d="M420.77 625.9V631.6" stroke="#2ba283" stroke-width="0.75"/>
<rect x="419.47" y="625.9" width="2.6" height="4.3" fill="#2ba283"/>
<path d="M424.37 624.9V629.7" stroke="#e34c78" stroke-width="0.75"/>
<rect x="423.06" y="625.9" width="2.6" height="2.8" fill="#e34c78"/>
<path d="M427.96 627.6V630.9" stroke="#2ba283" stroke-width="0.75"/>
<rect x="426.66" y="627.6" width="2.6" height="1.8" fill="#2ba283"/>
<path d="M431.55 624.9V628.3" stroke="#2ba283" stroke-width="0.75"/>
<rect x="430.25" y="625.9" width="2.6" height="2.4" fill="#2ba283"/>
<path d="M435.14 624.4V630.8" stroke="#e34c78" stroke-width="0.75"/>
<rect x="433.84" y="625.9" width="2.6" height="3.4" fill="#e34c78"/>
<path d="M438.73 627.9V630.7" stroke="#e34c78" stroke-width="0.75"/>
<rect x="437.43" y="628.4" width="2.6" height="1.8" fill="#e34c78"/>
<path d="M442.32 627.1V630.9" stroke="#e34c78" stroke-width="0.75"/>
<rect x="441.02" y="629.1" width="2.6" height="1.8" fill="#e34c78"/>
<path d="M445.91 628.4V632.6" stroke="#e34c78" stroke-width="0.75"/>
<rect x="444.61" y="630.4" width="2.6" height="1.8" fill="#e34c78"/>
<path d="M449.50 631.1V634.4" stroke="#e34c78" stroke-width="0.75"/>
<rect x="448.20" y="631.1" width="2.6" height="1.8" fill="#e34c78"/>
<path d="M453.09 628.5V632.3" stroke="#2ba283" stroke-width="0.75"/>
<rect x="451.79" y="630.5" width="2.6" height="1.8" fill="#2ba283"/>
<path d="M456.68 627.6V632.2" stroke="#2ba283" stroke-width="0.75"/>
<rect x="455.38" y="627.6" width="2.6" height="3.1" fill="#2ba283"/>
<path d="M460.27 600.6V628.1" stroke="#2ba283" stroke-width="0.75"/>
<rect x="458.97" y="611.2" width="2.6" height="16.3" fill="#2ba283"/>
<path d="M463.87 587.8V613.2" stroke="#2ba283" stroke-width="0.75"/>
<rect x="462.57" y="608.8" width="2.6" height="2.4" fill="#2ba283"/>
<path d="M467.46 607.9V610.2" stroke="#e34c78" stroke-width="0.75"/>
<rect x="466.16" y="608.4" width="2.6" height="1.8" fill="#e34c78"/>
<path d="M471.05 608.8V612.6" stroke="#e34c78" stroke-width="0.75"/>
<rect x="469.75" y="609.3" width="2.6" height="1.8" fill="#e34c78"/>
<path d="M474.64 608.3V612.6" stroke="#2ba283" stroke-width="0.75"/>
<rect x="473.34" y="608.8" width="2.6" height="1.8" fill="#2ba283"/>
<path d="M478.23 608.0V610.8" stroke="#e34c78" stroke-width="0.75"/>
<rect x="476.93" y="608.0" width="2.6" height="1.8" fill="#e34c78"/>
<path d="M481.82 606.7V611.5" stroke="#e34c78" stroke-width="0.75"/>
<rect x="480.52" y="608.2" width="2.6" height="1.8" fill="#e34c78"/>
<path d="M485.41 609.1V613.6" stroke="#e34c78" stroke-width="0.75"/>
<rect x="484.11" y="609.1" width="2.6" height="4.5" fill="#e34c78"/>
<path d="M489.00 611.5V614.3" stroke="#2ba283" stroke-width="0.75"/>
<rect x="487.70" y="612.5" width="2.6" height="1.8" fill="#2ba283"/>
<path d="M492.59 612.6V615.6" stroke="#e34c78" stroke-width="0.75"/>
<rect x="491.29" y="613.1" width="2.6" height="2.0" fill="#e34c78"/>
<path d="M496.19 611.9V616.7" stroke="#2ba283" stroke-width="0.75"/>
<rect x="494.88" y="613.4" width="2.6" height="1.8" fill="#2ba283"/>
<path d="M499.78 611.0V614.8" stroke="#2ba283" stroke-width="0.75"/>
<rect x="498.48" y="612.5" width="2.6" height="1.8" fill="#2ba283"/>
<path d="M503.37 611.5V615.3" stroke="#e34c78" stroke-width="0.75"/>
<rect x="502.07" y="612.5" width="2.6" height="1.8" fill="#e34c78"/>
<path d="M506.96 613.6V619.7" stroke="#e34c78" stroke-width="0.75"/>
<rect x="505.66" y="613.6" width="2.6" height="6.1" fill="#e34c78"/>
<path d="M510.55 618.8V621.1" stroke="#e34c78" stroke-width="0.75"/>
<rect x="509.25" y="619.3" width="2.6" height="1.8" fill="#e34c78"/>
<path d="M514.14 619.8V622.6" stroke="#e34c78" stroke-width="0.75"/>
<rect x="512.84" y="620.3" width="2.6" height="1.8" fill="#e34c78"/>
<path d="M517.73 619.0V622.3" stroke="#2ba283" stroke-width="0.75"/>
<rect x="516.43" y="620.5" width="2.6" height="1.8" fill="#2ba283"/>
<path d="M521.32 619.3V622.6" stroke="#e34c78" stroke-width="0.75"/>
<rect x="520.02" y="620.8" width="2.6" height="1.8" fill="#e34c78"/>
<path d="M524.91 613.6V622.7" stroke="#2ba283" stroke-width="0.75"/>
<rect x="523.61" y="615.1" width="2.6" height="7.1" fill="#2ba283"/>
<path d="M528.50 608.3V616.6" stroke="#2ba283" stroke-width="0.75"/>
<rect x="527.20" y="608.8" width="2.6" height="6.2" fill="#2ba283"/>
<path d="M532.10 600.3V609.3" stroke="#2ba283" stroke-width="0.75"/>
<rect x="530.80" y="601.3" width="2.6" height="7.5" fill="#2ba283"/>
<path d="M535.69 600.8V605.6" stroke="#e34c78" stroke-width="0.75"/>
<rect x="534.39" y="601.3" width="2.6" height="3.8" fill="#e34c78"/>
<path d="M539.28 603.6V607.9" stroke="#2ba283" stroke-width="0.75"/>
<rect x="537.98" y="604.1" width="2.6" height="1.8" fill="#2ba283"/>
<path d="M542.87 602.7V605.8" stroke="#2ba283" stroke-width="0.75"/>
<rect x="541.57" y="602.7" width="2.6" height="2.1" fill="#2ba283"/>
<path d="M546.46 599.1V605.6" stroke="#e34c78" stroke-width="0.75"/>
<rect x="545.16" y="602.7" width="2.6" height="2.4" fill="#e34c78"/>
<path d="M550.05 605.1V611.3" stroke="#e34c78" stroke-width="0.75"/>
<rect x="548.75" y="605.1" width="2.6" height="5.7" fill="#e34c78"/>
<path d="M553.64 609.8V612.1" stroke="#2ba283" stroke-width="0.75"/>
<rect x="552.34" y="609.8" width="2.6" height="1.8" fill="#2ba283"/>
<path d="M557.23 610.0V612.6" stroke="#e34c78" stroke-width="0.75"/>
<rect x="555.93" y="610.5" width="2.6" height="2.1" fill="#e34c78"/>
<path d="M560.82 606.8V613.6" stroke="#2ba283" stroke-width="0.75"/>
<rect x="559.52" y="608.8" width="2.6" height="3.8" fill="#2ba283"/>
<path d="M564.41 608.3V611.7" stroke="#e34c78" stroke-width="0.75"/>
<rect x="563.11" y="608.8" width="2.6" height="2.4" fill="#e34c78"/>
<path d="M568.00 609.5V611.8" stroke="#2ba283" stroke-width="0.75"/>
<rect x="566.71" y="610.0" width="2.6" height="1.8" fill="#2ba283"/>
<path d="M571.60 609.3V611.1" stroke="#2ba283" stroke-width="0.75"/>
<rect x="570.30" y="609.3" width="2.6" height="1.8" fill="#2ba283"/>
<path d="M575.19 604.5V609.8" stroke="#2ba283" stroke-width="0.75"/>
<rect x="573.89" y="605.5" width="2.6" height="4.3" fill="#2ba283"/>
<path d="M578.78 605.5V614.1" stroke="#e34c78" stroke-width="0.75"/>
<rect x="577.48" y="605.5" width="2.6" height="7.1" fill="#e34c78"/>
<path d="M582.37 610.7V614.0" stroke="#e34c78" stroke-width="0.75"/>
<rect x="581.07" y="611.7" width="2.6" height="1.8" fill="#e34c78"/>
<path d="M585.96 611.6V613.9" stroke="#e34c78" stroke-width="0.75"/>
<rect x="584.66" y="612.1" width="2.6" height="1.8" fill="#e34c78"/>
<path d="M589.55 610.6V615.4" stroke="#2ba283" stroke-width="0.75"/>
<rect x="588.25" y="611.6" width="2.6" height="1.8" fill="#2ba283"/>
<path d="M593.14 608.9V613.2" stroke="#2ba283" stroke-width="0.75"/>
<rect x="591.84" y="610.4" width="2.6" height="1.8" fill="#2ba283"/>
<path d="M596.73 609.1V611.4" stroke="#2ba283" stroke-width="0.75"/>
<rect x="595.43" y="609.6" width="2.6" height="1.8" fill="#2ba283"/>
<path d="M600.32 608.4V614.9" stroke="#e34c78" stroke-width="0.75"/>
<rect x="599.02" y="609.9" width="2.6" height="4.5" fill="#e34c78"/>
<path d="M603.91 614.4V623.9" stroke="#e34c78" stroke-width="0.75"/>
<rect x="602.62" y="614.4" width="2.6" height="8.9" fill="#e34c78"/>
<path d="M607.51 621.8V624.6" stroke="#2ba283" stroke-width="0.75"/>
<rect x="606.21" y="622.3" width="2.6" height="1.8" fill="#2ba283"/>
<path d="M611.10 621.3V623.1" stroke="#2ba283" stroke-width="0.75"/>
<rect x="609.80" y="621.3" width="2.6" height="1.8" fill="#2ba283"/>
<path d="M614.69 620.4V622.6" stroke="#2ba283" stroke-width="0.75"/>
<rect x="613.39" y="620.4" width="2.6" height="1.8" fill="#2ba283"/>
<path d="M618.28 618.1V621.9" stroke="#2ba283" stroke-width="0.75"/>
<rect x="616.98" y="619.6" width="2.6" height="1.8" fill="#2ba283"/>
<path d="M621.87 619.4V622.2" stroke="#e34c78" stroke-width="0.75"/>
<rect x="620.57" y="619.9" width="2.6" height="1.8" fill="#e34c78"/>
<path d="M625.46 620.0V624.1" stroke="#e34c78" stroke-width="0.75"/>
<rect x="624.16" y="621.5" width="2.6" height="2.6" fill="#e34c78"/>
<path d="M629.05 622.1V624.9" stroke="#2ba283" stroke-width="0.75"/>
<rect x="627.75" y="622.6" width="2.6" height="1.8" fill="#2ba283"/>
<path d="M632.64 620.7V623.5" stroke="#2ba283" stroke-width="0.75"/>
<rect x="631.34" y="621.2" width="2.6" height="1.8" fill="#2ba283"/>
<path d="M636.23 620.0V623.8" stroke="#2ba283" stroke-width="0.75"/>
<rect x="634.93" y="620.0" width="2.6" height="1.8" fill="#2ba283"/>
<path d="M639.83 618.2V620.5" stroke="#2ba283" stroke-width="0.75"/>
<rect x="638.53" y="618.7" width="2.6" height="1.8" fill="#2ba283"/>
<path d="M643.42 616.2V620.7" stroke="#2ba283" stroke-width="0.75"/>
<rect x="642.12" y="616.7" width="2.6" height="2.0" fill="#2ba283"/>
<path d="M647.01 616.2V621.5" stroke="#e34c78" stroke-width="0.75"/>
<rect x="645.71" y="616.7" width="2.6" height="2.8" fill="#e34c78"/>
<path d="M650.60 619.0V623.0" stroke="#e34c78" stroke-width="0.75"/>
<rect x="649.30" y="619.5" width="2.6" height="3.4" fill="#e34c78"/>
<path d="M654.19 623.0V626.3" stroke="#e34c78" stroke-width="0.75"/>
<rect x="652.89" y="623.0" width="2.6" height="1.8" fill="#e34c78"/>
<path d="M657.78 624.4V627.7" stroke="#e34c78" stroke-width="0.75"/>
<rect x="656.48" y="624.4" width="2.6" height="1.8" fill="#e34c78"/>
<path d="M661.37 624.4V627.2" stroke="#e34c78" stroke-width="0.75"/>
<rect x="660.07" y="624.9" width="2.6" height="1.8" fill="#e34c78"/>
<path d="M664.96 623.9V626.2" stroke="#2ba283" stroke-width="0.75"/>
<rect x="663.66" y="624.4" width="2.6" height="1.8" fill="#2ba283"/>
<path d="M668.55 624.3V627.7" stroke="#e34c78" stroke-width="0.75"/>
<rect x="667.25" y="624.8" width="2.6" height="2.4" fill="#e34c78"/>
<path d="M672.14 624.5V629.3" stroke="#e34c78" stroke-width="0.75"/>
<rect x="670.84" y="626.5" width="2.6" height="1.8" fill="#e34c78"/>
<path d="M675.74 626.5V628.8" stroke="#2ba283" stroke-width="0.75"/>
<rect x="674.44" y="626.5" width="2.6" height="1.8" fill="#2ba283"/>
<path d="M679.33 626.7V631.5" stroke="#e34c78" stroke-width="0.75"/>
<rect x="678.03" y="627.2" width="2.6" height="2.3" fill="#e34c78"/>
<path d="M682.92 629.0V633.5" stroke="#e34c78" stroke-width="0.75"/>
<rect x="681.62" y="629.5" width="2.6" height="2.0" fill="#e34c78"/>
<path d="M686.51 631.3V633.6" stroke="#e34c78" stroke-width="0.75"/>
<rect x="685.21" y="631.3" width="2.6" height="1.8" fill="#e34c78"/>
<path d="M690.10 628.1V632.9" stroke="#2ba283" stroke-width="0.75"/>
<rect x="688.80" y="628.1" width="2.6" height="4.8" fill="#2ba283"/>
<path d="M693.69 625.0V630.3" stroke="#2ba283" stroke-width="0.75"/>
<rect x="692.39" y="627.0" width="2.6" height="1.8" fill="#2ba283"/>
<path d="M697.28 627.0V630.8" stroke="#e34c78" stroke-width="0.75"/>
<rect x="695.98" y="627.5" width="2.6" height="1.8" fill="#e34c78"/>
<path d="M700.87 628.5V630.3" stroke="#e34c78" stroke-width="0.75"/>
<rect x="699.57" y="628.5" width="2.6" height="1.8" fill="#e34c78"/>
<path d="M704.46 628.4V631.2" stroke="#e34c78" stroke-width="0.75"/>
<rect x="703.16" y="628.9" width="2.6" height="1.8" fill="#e34c78"/>
<path d="M708.05 627.3V630.6" stroke="#2ba283" stroke-width="0.75"/>
<rect x="706.75" y="628.3" width="2.6" height="1.8" fill="#2ba283"/>
<path d="M711.64 626.6V630.6" stroke="#2ba283" stroke-width="0.75"/>
<rect x="710.35" y="626.6" width="2.6" height="2.0" fill="#2ba283"/>
<path d="M715.24 625.7V630.0" stroke="#e34c78" stroke-width="0.75"/>
<rect x="713.94" y="626.2" width="2.6" height="1.8" fill="#e34c78"/>
<path d="M718.83 627.0V629.3" stroke="#e34c78" stroke-width="0.75"/>
<rect x="717.53" y="627.5" width="2.6" height="1.8" fill="#e34c78"/>
<path d="M722.42 623.8V631.1" stroke="#2ba283" stroke-width="0.75"/>
<rect x="721.12" y="625.8" width="2.6" height="3.3" fill="#2ba283"/>
<path d="M726.01 623.6V627.4" stroke="#e34c78" stroke-width="0.75"/>
<rect x="724.71" y="625.1" width="2.6" height="1.8" fill="#e34c78"/>
<path d="M729.60 625.2V630.1" stroke="#e34c78" stroke-width="0.75"/>
<rect x="728.30" y="626.2" width="2.6" height="2.8" fill="#e34c78"/>
<path d="M733.19 627.9V631.2" stroke="#2ba283" stroke-width="0.75"/>
<rect x="731.89" y="627.9" width="2.6" height="1.8" fill="#2ba283"/>
<path d="M736.78 627.6V629.4" stroke="#2ba283" stroke-width="0.75"/>
<rect x="735.48" y="627.6" width="2.6" height="1.8" fill="#2ba283"/>
<path d="M740.37 625.8V629.6" stroke="#2ba283" stroke-width="0.75"/>
<rect x="739.07" y="627.3" width="2.6" height="1.8" fill="#2ba283"/>
<path d="M743.96 626.5V629.8" stroke="#2ba283" stroke-width="0.75"/>
<rect x="742.66" y="627.0" width="2.6" height="1.8" fill="#2ba283"/>
<path d="M747.56 623.2V627.6" stroke="#2ba283" stroke-width="0.75"/>
<rect x="746.26" y="625.2" width="2.6" height="2.4" fill="#2ba283"/>
<path d="M751.15 619.5V627.2" stroke="#2ba283" stroke-width="0.75"/>
<rect x="749.85" y="621.0" width="2.6" height="4.3" fill="#2ba283"/>
<path d="M754.74 619.0V621.8" stroke="#2ba283" stroke-width="0.75"/>
<rect x="753.44" y="619.5" width="2.6" height="1.8" fill="#2ba283"/>
<path d="M758.33 619.1V621.9" stroke="#e34c78" stroke-width="0.75"/>
<rect x="757.03" y="619.1" width="2.6" height="1.8" fill="#e34c78"/>
<path d="M761.92 618.1V620.1" stroke="#2ba283" stroke-width="0.75"/>
<rect x="760.62" y="618.1" width="2.6" height="2.0" fill="#2ba283"/>
<path d="M765.51 616.5V619.3" stroke="#2ba283" stroke-width="0.75"/>
<rect x="764.21" y="617.0" width="2.6" height="1.8" fill="#2ba283"/>
<path d="M769.10 617.0V619.8" stroke="#e34c78" stroke-width="0.75"/>
<rect x="767.80" y="617.5" width="2.6" height="1.8" fill="#e34c78"/>
<path d="M772.69 616.8V619.6" stroke="#2ba283" stroke-width="0.75"/>
<rect x="771.39" y="617.3" width="2.6" height="1.8" fill="#2ba283"/>
<path d="M776.28 614.4V619.2" stroke="#2ba283" stroke-width="0.75"/>
<rect x="774.98" y="615.9" width="2.6" height="1.8" fill="#2ba283"/>
<path d="M779.87 613.9V617.7" stroke="#e34c78" stroke-width="0.75"/>
<rect x="778.57" y="615.4" width="2.6" height="1.8" fill="#e34c78"/>
<path d="M783.47 613.9V617.8" stroke="#2ba283" stroke-width="0.75"/>
<rect x="782.17" y="614.4" width="2.6" height="1.8" fill="#2ba283"/>
<path d="M787.06 609.6V614.9" stroke="#2ba283" stroke-width="0.75"/>
<rect x="785.76" y="609.6" width="2.6" height="4.8" fill="#2ba283"/>
<path d="M790.65 607.5V610.8" stroke="#2ba283" stroke-width="0.75"/>
<rect x="789.35" y="608.0" width="2.6" height="1.8" fill="#2ba283"/>
<path d="M794.24 606.3V610.1" stroke="#e34c78" stroke-width="0.75"/>
<rect x="792.94" y="607.8" width="2.6" height="1.8" fill="#e34c78"/>
<path d="M797.83 609.2V615.6" stroke="#e34c78" stroke-width="0.75"/>
<rect x="796.53" y="609.2" width="2.6" height="6.4" fill="#e34c78"/>
<path d="M801.42 614.1V617.7" stroke="#e34c78" stroke-width="0.75"/>
<rect x="800.12" y="615.6" width="2.6" height="2.1" fill="#e34c78"/>
<path d="M805.01 616.8V618.6" stroke="#e34c78" stroke-width="0.75"/>
<rect x="803.71" y="616.8" width="2.6" height="1.8" fill="#e34c78"/>
<path d="M808.60 615.4V620.2" stroke="#2ba283" stroke-width="0.75"/>
<rect x="807.30" y="616.4" width="2.6" height="1.8" fill="#2ba283"/>
<path d="M812.19 615.0V618.3" stroke="#2ba283" stroke-width="0.75"/>
<rect x="810.89" y="615.5" width="2.6" height="1.8" fill="#2ba283"/>
<path d="M815.78 615.9V620.3" stroke="#e34c78" stroke-width="0.75"/>
<rect x="814.48" y="615.9" width="2.6" height="4.0" fill="#e34c78"/>
<path d="M819.38 618.8V623.1" stroke="#e34c78" stroke-width="0.75"/>
<rect x="818.08" y="619.3" width="2.6" height="1.8" fill="#e34c78"/>
<path d="M822.97 619.6V622.4" stroke="#e34c78" stroke-width="0.75"/>
<rect x="821.67" y="620.1" width="2.6" height="1.8" fill="#e34c78"/>
<path d="M826.56 621.5V625.8" stroke="#e34c78" stroke-width="0.75"/>
<rect x="825.26" y="621.5" width="2.6" height="3.3" fill="#e34c78"/>
<path d="M830.15 624.8V626.9" stroke="#e34c78" stroke-width="0.75"/>
<rect x="828.85" y="624.8" width="2.6" height="2.1" fill="#e34c78"/>
<path d="M833.74 626.4V628.2" stroke="#e34c78" stroke-width="0.75"/>
<rect x="832.44" y="626.4" width="2.6" height="1.8" fill="#e34c78"/>
<path d="M837.33 625.5V628.8" stroke="#2ba283" stroke-width="0.75"/>
<rect x="836.03" y="626.0" width="2.6" height="1.8" fill="#2ba283"/>
<path d="M840.92 623.8V626.7" stroke="#2ba283" stroke-width="0.75"/>
<rect x="839.62" y="623.8" width="2.6" height="2.4" fill="#2ba283"/>
<path d="M844.51 623.4V625.7" stroke="#e34c78" stroke-width="0.75"/>
<rect x="843.21" y="623.4" width="2.6" height="1.8" fill="#e34c78"/>
<path d="M848.10 623.4V627.7" stroke="#e34c78" stroke-width="0.75"/>
<rect x="846.80" y="623.9" width="2.6" height="1.8" fill="#e34c78"/>
<path d="M851.69 622.4V625.2" stroke="#2ba283" stroke-width="0.75"/>
<rect x="850.39" y="623.4" width="2.6" height="1.8" fill="#2ba283"/>
<path d="M855.28 622.5V625.8" stroke="#2ba283" stroke-width="0.75"/>
<rect x="853.99" y="622.5" width="2.6" height="1.8" fill="#2ba283"/>
<path d="M858.88 619.3V623.6" stroke="#2ba283" stroke-width="0.75"/>
<rect x="857.58" y="621.3" width="2.6" height="1.8" fill="#2ba283"/>
<path d="M862.47 619.9V622.6" stroke="#2ba283" stroke-width="0.75"/>
<rect x="861.17" y="620.4" width="2.6" height="1.8" fill="#2ba283"/>
<path d="M866.06 619.5V625.4" stroke="#e34c78" stroke-width="0.75"/>
<rect x="864.76" y="621.0" width="2.6" height="3.4" fill="#e34c78"/>
<path d="M869.65 621.5V624.9" stroke="#2ba283" stroke-width="0.75"/>
<rect x="868.35" y="621.5" width="2.6" height="2.8" fill="#2ba283"/>
<path d="M873.24 617.9V622.0" stroke="#2ba283" stroke-width="0.75"/>
<rect x="871.94" y="618.4" width="2.6" height="3.1" fill="#2ba283"/>
<path d="M876.83 616.4V623.8" stroke="#e34c78" stroke-width="0.75"/>
<rect x="875.53" y="618.4" width="2.6" height="5.4" fill="#e34c78"/>
<path d="M880.42 623.3V626.7" stroke="#e34c78" stroke-width="0.75"/>
<rect x="879.12" y="623.8" width="2.6" height="2.4" fill="#e34c78"/>
<path d="M884.01 623.6V626.9" stroke="#2ba283" stroke-width="0.75"/>
<rect x="882.71" y="624.6" width="2.6" height="1.8" fill="#2ba283"/>
<path d="M887.60 623.5V626.8" stroke="#2ba283" stroke-width="0.75"/>
<rect x="886.30" y="623.5" width="2.6" height="1.8" fill="#2ba283"/>
<path d="M891.20 622.9V626.7" stroke="#e34c78" stroke-width="0.75"/>
<rect x="889.90" y="623.9" width="2.6" height="1.8" fill="#e34c78"/>
<path d="M894.79 624.0V630.1" stroke="#e34c78" stroke-width="0.75"/>
<rect x="893.49" y="625.5" width="2.6" height="2.6" fill="#e34c78"/>
<path d="M898.38 623.5V630.1" stroke="#2ba283" stroke-width="0.75"/>
<rect x="897.08" y="625.5" width="2.6" height="2.6" fill="#2ba283"/>
<path d="M901.97 624.3V626.1" stroke="#2ba283" stroke-width="0.75"/>
<rect x="900.67" y="624.3" width="2.6" height="1.8" fill="#2ba283"/>
<path d="M905.56 620.5V624.8" stroke="#2ba283" stroke-width="0.75"/>
<rect x="904.26" y="621.0" width="2.6" height="3.8" fill="#2ba283"/>
<path d="M909.15 619.4V622.2" stroke="#2ba283" stroke-width="0.75"/>
<rect x="907.85" y="619.9" width="2.6" height="1.8" fill="#2ba283"/>
<path d="M912.74 619.0V623.5" stroke="#e34c78" stroke-width="0.75"/>
<rect x="911.44" y="620.5" width="2.6" height="2.4" fill="#e34c78"/>
<path d="M916.33 622.5V628.6" stroke="#e34c78" stroke-width="0.75"/>
<rect x="915.03" y="623.0" width="2.6" height="5.1" fill="#e34c78"/>
<path d="M919.92 624.7V630.5" stroke="#2ba283" stroke-width="0.75"/>
<rect x="918.62" y="626.7" width="2.6" height="1.8" fill="#2ba283"/>
<path d="M923.51 624.0V627.8" stroke="#2ba283" stroke-width="0.75"/>
<rect x="922.21" y="626.0" width="2.6" height="1.8" fill="#2ba283"/>
<path d="M927.11 625.3V627.1" stroke="#2ba283" stroke-width="0.75"/>
<rect x="925.81" y="625.3" width="2.6" height="1.8" fill="#2ba283"/>
<path d="M930.70 625.1V628.9" stroke="#e34c78" stroke-width="0.75"/>
<rect x="929.40" y="625.6" width="2.6" height="1.8" fill="#e34c78"/>
<path d="M934.29 624.3V630.1" stroke="#e34c78" stroke-width="0.75"/>
<rect x="932.99" y="626.3" width="2.6" height="1.8" fill="#e34c78"/>
<path d="M937.88 625.5V628.8" stroke="#2ba283" stroke-width="0.75"/>
<rect x="936.58" y="626.0" width="2.6" height="1.8" fill="#2ba283"/>
<path d="M941.47 625.7V628.0" stroke="#e34c78" stroke-width="0.75"/>
<rect x="940.17" y="626.2" width="2.6" height="1.8" fill="#e34c78"/>
<path d="M945.06 626.5V628.8" stroke="#2ba283" stroke-width="0.75"/>
<rect x="943.76" y="626.5" width="2.6" height="1.8" fill="#2ba283"/>
<path d="M948.65 624.0V628.8" stroke="#2ba283" stroke-width="0.75"/>
<rect x="947.35" y="626.0" width="2.6" height="1.8" fill="#2ba283"/>
<path d="M952.24 624.0V628.3" stroke="#e34c78" stroke-width="0.75"/>
<rect x="950.94" y="626.0" width="2.6" height="1.8" fill="#e34c78"/>
<path d="M955.83 626.0V628.3" stroke="#e34c78" stroke-width="0.75"/>
<rect x="954.53" y="626.5" width="2.6" height="1.8" fill="#e34c78"/>
<path d="M959.42 625.0V628.8" stroke="#e34c78" stroke-width="0.75"/>
<rect x="958.12" y="627.0" width="2.6" height="1.8" fill="#e34c78"/>
<path d="M963.01 627.0V628.8" stroke="#2ba283" stroke-width="0.75"/>
<rect x="961.72" y="627.0" width="2.6" height="1.8" fill="#2ba283"/>
<path d="M966.61 626.2V629.0" stroke="#2ba283" stroke-width="0.75"/>
<rect x="965.31" y="626.2" width="2.6" height="1.8" fill="#2ba283"/>
<path d="M970.20 623.8V627.1" stroke="#2ba283" stroke-width="0.75"/>
<rect x="968.90" y="625.3" width="2.6" height="1.8" fill="#2ba283"/>
<path d="M973.79 622.4V627.7" stroke="#2ba283" stroke-width="0.75"/>
<rect x="972.49" y="624.4" width="2.6" height="1.8" fill="#2ba283"/>
<path d="M977.38 622.2V627.0" stroke="#2ba283" stroke-width="0.75"/>
<rect x="976.08" y="623.7" width="2.6" height="1.8" fill="#2ba283"/>
<path d="M980.97 621.2V627.0" stroke="#2ba283" stroke-width="0.75"/>
<rect x="979.67" y="623.2" width="2.6" height="1.8" fill="#2ba283"/>
<path d="M984.56 621.9V624.2" stroke="#2ba283" stroke-width="0.75"/>
<rect x="983.26" y="622.4" width="2.6" height="1.8" fill="#2ba283"/>
<path d="M988.15 621.8V626.9" stroke="#e34c78" stroke-width="0.75"/>
<rect x="986.85" y="622.8" width="2.6" height="2.1" fill="#e34c78"/>
<path d="M991.74 624.3V626.1" stroke="#e34c78" stroke-width="0.75"/>
<rect x="990.44" y="624.3" width="2.6" height="1.8" fill="#e34c78"/>
<path d="M995.33 622.7V626.5" stroke="#e34c78" stroke-width="0.75"/>
<rect x="994.03" y="624.7" width="2.6" height="1.8" fill="#e34c78"/>
<path d="M998.93 624.2V627.0" stroke="#2ba283" stroke-width="0.75"/>
<rect x="997.63" y="624.2" width="2.6" height="1.8" fill="#2ba283"/>
<path d="M1002.52 623.0V626.3" stroke="#2ba283" stroke-width="0.75"/>
<rect x="1001.22" y="623.0" width="2.6" height="1.8" fill="#2ba283"/>
<path d="M1006.11 621.7V625.8" stroke="#e34c78" stroke-width="0.75"/>
<rect x="1004.81" y="623.2" width="2.6" height="2.1" fill="#e34c78"/>
<path d="M1009.70 624.4V627.7" stroke="#e34c78" stroke-width="0.75"/>
<rect x="1008.40" y="624.4" width="2.6" height="1.8" fill="#e34c78"/>
<path d="M1013.29 624.1V627.4" stroke="#e34c78" stroke-width="0.75"/>
<rect x="1011.99" y="624.6" width="2.6" height="1.8" fill="#e34c78"/>
<path d="M1016.88 624.1V631.1" stroke="#e34c78" stroke-width="0.75"/>
<rect x="1015.58" y="625.6" width="2.6" height="5.0" fill="#e34c78"/>
<path d="M1020.47 628.1V633.4" stroke="#2ba283" stroke-width="0.75"/>
<rect x="1019.17" y="629.6" width="2.6" height="1.8" fill="#2ba283"/>
<path d="M1024.06 629.7V631.5" stroke="#e34c78" stroke-width="0.75"/>
<rect x="1022.76" y="629.7" width="2.6" height="1.8" fill="#e34c78"/>
<path d="M1027.65 630.9V633.8" stroke="#e34c78" stroke-width="0.75"/>
<rect x="1026.35" y="630.9" width="2.6" height="2.4" fill="#e34c78"/>
<path d="M1031.24 631.1V634.9" stroke="#2ba283" stroke-width="0.75"/>
<rect x="1029.94" y="632.1" width="2.6" height="1.8" fill="#2ba283"/>
<path d="M1034.84 631.4V633.7" stroke="#2ba283" stroke-width="0.75"/>
<rect x="1033.54" y="631.4" width="2.6" height="1.8" fill="#2ba283"/>
<path d="M1038.43 630.3V632.6" stroke="#2ba283" stroke-width="0.75"/>
<rect x="1037.13" y="630.8" width="2.6" height="1.8" fill="#2ba283"/>
<path d="M1042.02 628.3V633.1" stroke="#2ba283" stroke-width="0.75"/>
<rect x="1040.72" y="630.3" width="2.6" height="1.8" fill="#2ba283"/>
<path d="M1045.61 629.7V631.5" stroke="#2ba283" stroke-width="0.75"/>
<rect x="1044.31" y="629.7" width="2.6" height="1.8" fill="#2ba283"/>
<path d="M1049.20 627.8V631.1" stroke="#2ba283" stroke-width="0.75"/>
<rect x="1047.90" y="628.8" width="2.6" height="1.8" fill="#2ba283"/>
<path d="M1052.79 627.4V630.2" stroke="#2ba283" stroke-width="0.75"/>
<rect x="1051.49" y="627.9" width="2.6" height="1.8" fill="#2ba283"/>
<path d="M1056.38 627.2V631.0" stroke="#e34c78" stroke-width="0.75"/>
<rect x="1055.08" y="627.7" width="2.6" height="1.8" fill="#e34c78"/>
<path d="M1059.97 626.4V630.2" stroke="#e34c78" stroke-width="0.75"/>
<rect x="1058.67" y="628.4" width="2.6" height="1.8" fill="#e34c78"/>
<path d="M1063.56 628.6V631.9" stroke="#e34c78" stroke-width="0.75"/>
<rect x="1062.26" y="629.1" width="2.6" height="1.8" fill="#e34c78"/>
<path d="M1067.15 629.3V632.1" stroke="#e34c78" stroke-width="0.75"/>
<rect x="1065.85" y="629.3" width="2.6" height="1.8" fill="#e34c78"/>
<path d="M1070.75 630.2V632.3" stroke="#e34c78" stroke-width="0.75"/>
<rect x="1069.45" y="630.2" width="2.6" height="2.1" fill="#e34c78"/>
<path d="M1074.34 630.4V634.2" stroke="#2ba283" stroke-width="0.75"/>
<rect x="1073.04" y="630.9" width="2.6" height="1.8" fill="#2ba283"/>
<path d="M1077.93 629.0V632.8" stroke="#e34c78" stroke-width="0.75"/>
<rect x="1076.63" y="630.5" width="2.6" height="1.8" fill="#e34c78"/>
<path d="M1081.52 630.0V678.5" stroke="#e34c78" stroke-width="0.75"/>
<rect x="1080.22" y="631.4" width="2.6" height="15.3" fill="#e34c78"/>
<path d="M1085.11 645.0V647.3" stroke="#2ba283" stroke-width="0.75"/>
<rect x="1083.81" y="645.0" width="2.6" height="1.8" fill="#2ba283"/>
<path d="M1088.70 642.2V647.0" stroke="#2ba283" stroke-width="0.75" opacity="0.4"/>
<rect x="1087.40" y="643.7" width="2.6" height="1.8" fill="#2ba283" opacity="0.4"/>
</g>
<path d="M1053 679.5H1336" stroke="#1a1410" stroke-width="1.6" stroke-dasharray="1.8 2.89"/>

<!-- legends -->
<g font-size="11.3" fill="#564d45" stroke="#564d45" stroke-width="0.2">
<text x="16.6" y="45.1" textLength="74.6" lengthAdjust="spacingAndGlyphs">RSI (14, close)</text>
<text x="98.9" y="45.1" fill="#8268c8" stroke="#8268c8" textLength="28.1" lengthAdjust="spacingAndGlyphs">32.07</text>
<text x="134" y="45.1" fill="#f3dc74" stroke="#f3dc74" stroke-width="0" textLength="28.8" lengthAdjust="spacingAndGlyphs">40.15</text>

<text x="16.9" y="75.5" textLength="174.3" lengthAdjust="spacingAndGlyphs">Cosmos / TetherUS · 1D · Binance</text>
<g fill="#4f5d4c" stroke="#4f5d4c"><text x="197.2" y="75.5" textLength="37.6" lengthAdjust="spacingAndGlyphs">O3.142</text><text x="242.5" y="75.5" textLength="36.5" lengthAdjust="spacingAndGlyphs">H3.354</text><text x="286.8" y="75.5" textLength="37.5" lengthAdjust="spacingAndGlyphs">L3.036</text><text x="332" y="75.5" textLength="35.8" lengthAdjust="spacingAndGlyphs">C3.252</text><text x="375.4" y="75.5" textLength="87.0" lengthAdjust="spacingAndGlyphs">+0.109 (+3.47%)</text></g>
<text x="17" y="92" textLength="81.5" lengthAdjust="spacingAndGlyphs">EMA (50, close)</text>
<text x="106.9" y="92" fill="#e03e5c" stroke="#e03e5c" textLength="29.1" lengthAdjust="spacingAndGlyphs">4.202</text>
<text x="17" y="107.9" textLength="81.5" lengthAdjust="spacingAndGlyphs">EMA (20, close)</text>
<text x="106.9" y="107.9" fill="#3f8757" stroke="#3f8757" textLength="29.1" lengthAdjust="spacingAndGlyphs">3.933</text>

<text x="17" y="235.75" textLength="106.6" lengthAdjust="spacingAndGlyphs">IOTXUSDT · Binance</text>
<g fill="#e24a70" stroke="#e24a70">
<text x="131.1" y="235.75" textLength="41.3" lengthAdjust="spacingAndGlyphs">0.01330</text>
<text x="179.9" y="235.75" textLength="41.4" lengthAdjust="spacingAndGlyphs">0.01360</text>
<text x="229" y="235.75" textLength="41" lengthAdjust="spacingAndGlyphs">0.01276</text>
<text x="277" y="235.75" textLength="41.5" lengthAdjust="spacingAndGlyphs">0.01320</text>
<text x="325.6" y="235.75" textLength="102.8" lengthAdjust="spacingAndGlyphs">−0.00008 (−0.60%)</text>
</g>

<text x="16.5" y="445.75" textLength="102.3" lengthAdjust="spacingAndGlyphs">ENJUSDT · Binance</text>
<g fill="#35a47c" stroke="#35a47c">
<text x="125.9" y="445.75" textLength="36.9" lengthAdjust="spacingAndGlyphs">0.0440</text>
<text x="170.5" y="445.75" textLength="36.4" lengthAdjust="spacingAndGlyphs">0.0460</text>
<text x="214.5" y="445.75" textLength="36.4" lengthAdjust="spacingAndGlyphs">0.0429</text>
<text x="258.6" y="445.75" textLength="36.4" lengthAdjust="spacingAndGlyphs">0.0454</text>
<text x="302" y="445.75" textLength="93" lengthAdjust="spacingAndGlyphs">+0.0014 (+3.18%)</text>
</g>

<text x="16.9" y="711.8" textLength="109.3" lengthAdjust="spacingAndGlyphs">MACD (12, 26, close)</text>
<text x="133.6" y="711.8" fill="#e95a6c" stroke="#e95a6c" textLength="35.1" lengthAdjust="spacingAndGlyphs">−0.104</text>
<text x="176.4" y="711.8" fill="#5670e0" stroke="#5670e0" textLength="36.2" lengthAdjust="spacingAndGlyphs">−0.259</text>
<text x="220" y="711.8" fill="#f08a48" stroke="#f08a48" textLength="35.1" lengthAdjust="spacingAndGlyphs">−0.156</text>
</g>

<!-- time axis -->
<g font-size="10.6" fill="#6a5f55" text-anchor="middle" stroke="#6a5f55" stroke-width="0.15">
<text x="69.1" y="739.9" font-size="10.5" font-weight="bold" fill="#574b3f" textLength="26.8" lengthAdjust="spacing">2025</text>
<text x="180.1" y="740.1">Feb</text>
<text x="280.7" y="740.1">Mar</text>
<text x="392" y="740.1">Apr</text>
<text x="498.9" y="740.1">May</text>
<text x="610.8" y="740.1">Jun</text>
<text x="718.7" y="740.1">Jul</text>
<text x="829.6" y="740.1">Aug</text>
<text x="941.5" y="740.1">Sep</text>
<text x="1048.8" y="740.1">Oct</text>
<text x="1160" y="740.1">Nov</text>
<text x="1268" y="740.1">Dec</text>
</g>

<!-- price scale labels -->
<g font-size="10.6" fill="#6f655b">
<text x="1344.9" y="149.8" textLength="28.1" lengthAdjust="spacingAndGlyphs">0.000</text>
<text x="1345" y="211" textLength="34.7" lengthAdjust="spacingAndGlyphs">−1.000</text>
<text x="1344.9" y="267.1" textLength="41.3" lengthAdjust="spacingAndGlyphs">0.04000</text>
<text x="1344.9" y="305" textLength="41.3" lengthAdjust="spacingAndGlyphs">0.03000</text>
<text x="1344.9" y="343.3" textLength="41.3" lengthAdjust="spacingAndGlyphs">0.02000</text>
<text x="1344.9" y="381.2" textLength="41.3" lengthAdjust="spacingAndGlyphs">0.01000</text>
<text x="1344.9" y="491.2" textLength="35.5" lengthAdjust="spacingAndGlyphs">0.2500</text>
<text x="1344.9" y="528.6" textLength="35.5" lengthAdjust="spacingAndGlyphs">0.2000</text>
<text x="1344.9" y="567.1" textLength="35.5" lengthAdjust="spacingAndGlyphs">0.1500</text>
<text x="1344.9" y="605.5" textLength="35.5" lengthAdjust="spacingAndGlyphs">0.1000</text>
</g>

<!-- ATOM labels -->
<path d="M1273.4 70.2H1336.6V84.6H1273.4Q1271.4 84.6 1271.4 82.6V72.2Q1271.4 70.2 1273.4 70.2Z" fill="#5ea882"/>
<text x="1275.5" y="81.3" font-size="11" fill="#e2f3e2" textLength="57" lengthAdjust="spacingAndGlyphs">ATOMUSDT</text>
<path d="M1336.6 80H1391.7Q1393.7 80 1393.7 82V94.6Q1393.7 96.6 1391.7 96.6H1336.6Z" fill="#5ea882"/>
<text x="1347.2" y="92.9" font-size="11" fill="#c8ecd0" textLength="42" lengthAdjust="spacingAndGlyphs">13:27:38</text>
<rect x="1337" y="79" width="63" height="8.9" fill="#f0dfcf"/>
<rect x="1340" y="61.2" width="57.5" height="23.8" rx="4" fill="#ffffff"/>
<text x="1348.75" y="76.6" font-size="11.2" fill="#181818" stroke="#181818" stroke-width="0.25" textLength="29" lengthAdjust="spacingAndGlyphs">USDT</text>
<path d="M1336.5 122.5H1375.5Q1377.5 122.5 1377.5 124.5V135.1Q1377.5 137.1 1375.5 137.1H1336.5Z" fill="#050505"/>
<text x="1344.9" y="133.7" font-size="10.6" fill="#f4f4f4" textLength="27.4" lengthAdjust="spacingAndGlyphs">0.001</text>

<!-- IOTX labels -->
<rect x="1340" y="220.6" width="58" height="23.4" rx="4" fill="#ffffff"/>
<text x="1348.75" y="235.9" font-size="11.2" fill="#181818" stroke="#181818" stroke-width="0.25" textLength="29" lengthAdjust="spacingAndGlyphs">USDT</text>
<path d="M1279.2 358H1388.8Q1390.8 358 1390.8 360V370.3Q1390.8 372.3 1388.8 372.3H1279.2Q1277.2 372.3 1277.2 370.3V360Q1277.2 358 1279.2 358Z" fill="#e6467a"/>
<path d="M1336.5 358V372.3" stroke="#b8446a" stroke-width="1"/>
<text x="1280.6" y="368.9" font-size="11" fill="#fde6ee" textLength="51.1" lengthAdjust="spacingAndGlyphs">IOTXUSDT</text>
<text x="1344.6" y="368.9" font-size="11" fill="#fde6ee" textLength="41.6" lengthAdjust="spacingAndGlyphs">0.01320</text>
<path d="M1336.6 408H1395.8Q1397.8 408 1397.8 410V420.5Q1397.8 422.5 1395.8 422.5H1336.6Z" fill="#050505"/>
<text x="1344.9" y="418.9" font-size="10.6" fill="#f4f4f4" textLength="47.5" lengthAdjust="spacingAndGlyphs">−0.00004</text>

<!-- ENJ labels -->
<rect x="1340" y="431.3" width="57.6" height="22.7" rx="4" fill="#ffffff"/>
<text x="1348.75" y="446.3" font-size="11.2" fill="#181818" stroke="#181818" stroke-width="0.25" textLength="29" lengthAdjust="spacingAndGlyphs">USDT</text>
<path d="M1284.2 636.6H1382Q1384 636.6 1384 638.6V649Q1384 651 1382 651H1284.2Q1282.2 651 1282.2 649V638.6Q1282.2 636.6 1284.2 636.6Z" fill="#22a68c"/>
<path d="M1336.5 636.6V651" stroke="#1f8f79" stroke-width="1"/>
<text x="1285.2" y="647.6" font-size="11" fill="#f0fbf8" textLength="45.5" lengthAdjust="spacingAndGlyphs">ENJUSDT</text>
<text x="1344.6" y="647.6" font-size="11" fill="#f0fbf8" textLength="35.4" lengthAdjust="spacingAndGlyphs">0.0454</text>
<path d="M1336.5 672.4H1389.1Q1391.1 672.4 1391.1 674.4V684.4Q1391.1 686.4 1389.1 686.4H1336.5Z" fill="#050505"/>
<text x="1344.9" y="682.9" font-size="10.6" fill="#f4f4f4" textLength="41.6" lengthAdjust="spacingAndGlyphs">−0.0014</text>

<!-- TradingView logo -->
<g fill="#e3e3e3">
<path d="M10.9 770H22.6V783.6H16.4V774.8H10.9Z"/>
<circle cx="27.3" cy="772.5" r="2.5"/>
<path d="M31.6 770H39.2L33.6 783.6H26Z"/>
<text x="45.9" y="783.6" font-size="19.6" stroke="#e3e3e3" stroke-width="0.75" textLength="111.2" lengthAdjust="spacing">TradingView</text>
</g>
</svg>
</body></html>
